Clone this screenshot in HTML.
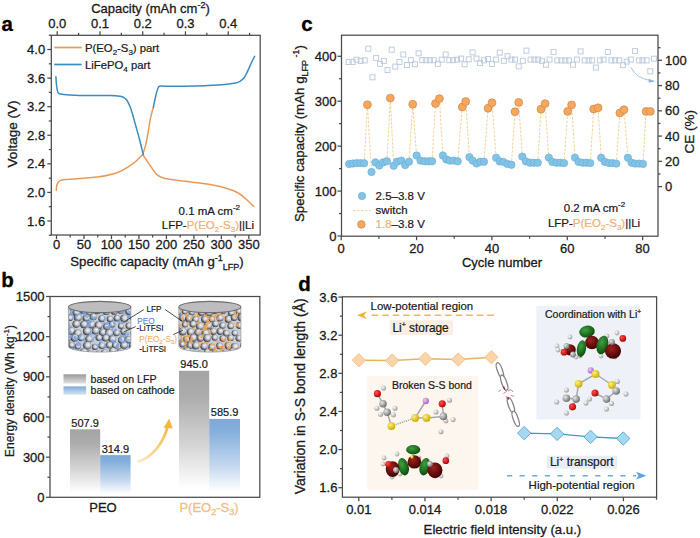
<!DOCTYPE html><html><head><meta charset="utf-8"><style>html,body{margin:0;padding:0;background:#fff;width:700px;height:538px;overflow:hidden}svg{display:block}</style></head><body>
<svg width="700" height="538" viewBox="0 0 700 538" font-family='"Liberation Sans", sans-serif'>
<defs>
<radialGradient id="sph" cx="0.6" cy="0.42" r="0.62" fx="0.62" fy="0.38"><stop offset="0" stop-color="#f2f4f8"/><stop offset="0.42" stop-color="#cacdd4"/><stop offset="0.74" stop-color="#74787f"/><stop offset="1" stop-color="#2a2e34"/></radialGradient>
<radialGradient id="atC" cx="0.35" cy="0.35" r="0.7"><stop offset="0" stop-color="#e8e8e8"/><stop offset="1" stop-color="#6a6a6a"/></radialGradient>
<radialGradient id="atH" cx="0.35" cy="0.35" r="0.7"><stop offset="0" stop-color="#ffffff"/><stop offset="1" stop-color="#9a9a9a"/></radialGradient>
<radialGradient id="atO" cx="0.35" cy="0.35" r="0.7"><stop offset="0" stop-color="#ff5050"/><stop offset="1" stop-color="#b00000"/></radialGradient>
<radialGradient id="atS" cx="0.35" cy="0.35" r="0.7"><stop offset="0" stop-color="#fff27a"/><stop offset="1" stop-color="#c8a800"/></radialGradient>
<radialGradient id="atL" cx="0.35" cy="0.35" r="0.7"><stop offset="0" stop-color="#f0c8f8"/><stop offset="1" stop-color="#a060c0"/></radialGradient>
<radialGradient id="orG" cx="0.4" cy="0.35" r="0.7"><stop offset="0" stop-color="#40a040"/><stop offset="1" stop-color="#0a4a0a"/></radialGradient>
<radialGradient id="orR" cx="0.4" cy="0.35" r="0.7"><stop offset="0" stop-color="#a02020"/><stop offset="1" stop-color="#3a0000"/></radialGradient>
<linearGradient id="barG" x1="0" y1="0" x2="0" y2="1"><stop offset="0" stop-color="#a4a4a4"/><stop offset="0.2" stop-color="#acacac"/><stop offset="0.6" stop-color="#d6d6d6"/><stop offset="0.93" stop-color="#ffffff"/></linearGradient>
<linearGradient id="barB" x1="0" y1="0" x2="0" y2="1"><stop offset="0" stop-color="#7eaad8"/><stop offset="0.15" stop-color="#84aedb"/><stop offset="0.6" stop-color="#c4d7ee"/><stop offset="0.93" stop-color="#ffffff"/></linearGradient>
<linearGradient id="legG" x1="0" y1="0" x2="0" y2="1"><stop offset="0" stop-color="#9a9a9a"/><stop offset="1" stop-color="#e0e0e0"/></linearGradient>
<linearGradient id="legB" x1="0" y1="0" x2="0" y2="1"><stop offset="0" stop-color="#7eaad8"/><stop offset="1" stop-color="#d8e6f4"/></linearGradient>
<linearGradient id="arrY" x1="0" y1="1" x2="1" y2="0"><stop offset="0" stop-color="#fde8c0"/><stop offset="1" stop-color="#f4b840"/></linearGradient>
</defs>
<text x="1.5" y="30.6" font-size="20.5" text-anchor="start" fill="#000" stroke="#000" stroke-width="0.3" font-weight="bold" >a</text>
<rect x="51.30" y="35.30" width="208.90" height="199.70" fill="none" stroke="#4a4a4a" stroke-width="1.25"/>
<line x1="47.30" y1="221.00" x2="51.30" y2="221.00" stroke="#4a4a4a" stroke-width="1.25" />
<text x="45.2" y="225.6" font-size="13" text-anchor="end" fill="#1a1a1a" stroke="#1a1a1a" stroke-width="0.3" font-weight="normal" >1.6</text>
<line x1="48.80" y1="206.71" x2="51.30" y2="206.71" stroke="#4a4a4a" stroke-width="1.25" />
<line x1="47.30" y1="192.42" x2="51.30" y2="192.42" stroke="#4a4a4a" stroke-width="1.25" />
<text x="45.2" y="197.0" font-size="13" text-anchor="end" fill="#1a1a1a" stroke="#1a1a1a" stroke-width="0.3" font-weight="normal" >2.0</text>
<line x1="48.80" y1="178.13" x2="51.30" y2="178.13" stroke="#4a4a4a" stroke-width="1.25" />
<line x1="47.30" y1="163.84" x2="51.30" y2="163.84" stroke="#4a4a4a" stroke-width="1.25" />
<text x="45.2" y="168.4" font-size="13" text-anchor="end" fill="#1a1a1a" stroke="#1a1a1a" stroke-width="0.3" font-weight="normal" >2.4</text>
<line x1="48.80" y1="149.55" x2="51.30" y2="149.55" stroke="#4a4a4a" stroke-width="1.25" />
<line x1="47.30" y1="135.26" x2="51.30" y2="135.26" stroke="#4a4a4a" stroke-width="1.25" />
<text x="45.2" y="139.9" font-size="13" text-anchor="end" fill="#1a1a1a" stroke="#1a1a1a" stroke-width="0.3" font-weight="normal" >2.8</text>
<line x1="48.80" y1="120.97" x2="51.30" y2="120.97" stroke="#4a4a4a" stroke-width="1.25" />
<line x1="47.30" y1="106.68" x2="51.30" y2="106.68" stroke="#4a4a4a" stroke-width="1.25" />
<text x="45.2" y="111.3" font-size="13" text-anchor="end" fill="#1a1a1a" stroke="#1a1a1a" stroke-width="0.3" font-weight="normal" >3.2</text>
<line x1="48.80" y1="92.39" x2="51.30" y2="92.39" stroke="#4a4a4a" stroke-width="1.25" />
<line x1="47.30" y1="78.10" x2="51.30" y2="78.10" stroke="#4a4a4a" stroke-width="1.25" />
<text x="45.2" y="82.7" font-size="13" text-anchor="end" fill="#1a1a1a" stroke="#1a1a1a" stroke-width="0.3" font-weight="normal" >3.6</text>
<line x1="48.80" y1="63.81" x2="51.30" y2="63.81" stroke="#4a4a4a" stroke-width="1.25" />
<line x1="47.30" y1="49.52" x2="51.30" y2="49.52" stroke="#4a4a4a" stroke-width="1.25" />
<text x="45.2" y="54.1" font-size="13" text-anchor="end" fill="#1a1a1a" stroke="#1a1a1a" stroke-width="0.3" font-weight="normal" >4.0</text>
<line x1="48.80" y1="35.23" x2="51.30" y2="35.23" stroke="#4a4a4a" stroke-width="1.25" />
<line x1="48.80" y1="235.29" x2="51.30" y2="235.29" stroke="#4a4a4a" stroke-width="1.25" />
<line x1="56.50" y1="235.00" x2="56.50" y2="239.00" stroke="#4a4a4a" stroke-width="1.25" />
<text x="56.5" y="248.8" font-size="13" text-anchor="middle" fill="#1a1a1a" stroke="#1a1a1a" stroke-width="0.3" font-weight="normal" >0</text>
<line x1="70.24" y1="235.00" x2="70.24" y2="237.50" stroke="#4a4a4a" stroke-width="1.25" />
<line x1="83.98" y1="235.00" x2="83.98" y2="239.00" stroke="#4a4a4a" stroke-width="1.25" />
<text x="84.0" y="248.8" font-size="13" text-anchor="middle" fill="#1a1a1a" stroke="#1a1a1a" stroke-width="0.3" font-weight="normal" >50</text>
<line x1="97.72" y1="235.00" x2="97.72" y2="237.50" stroke="#4a4a4a" stroke-width="1.25" />
<line x1="111.46" y1="235.00" x2="111.46" y2="239.00" stroke="#4a4a4a" stroke-width="1.25" />
<text x="111.5" y="248.8" font-size="13" text-anchor="middle" fill="#1a1a1a" stroke="#1a1a1a" stroke-width="0.3" font-weight="normal" >100</text>
<line x1="125.20" y1="235.00" x2="125.20" y2="237.50" stroke="#4a4a4a" stroke-width="1.25" />
<line x1="138.94" y1="235.00" x2="138.94" y2="239.00" stroke="#4a4a4a" stroke-width="1.25" />
<text x="138.9" y="248.8" font-size="13" text-anchor="middle" fill="#1a1a1a" stroke="#1a1a1a" stroke-width="0.3" font-weight="normal" >150</text>
<line x1="152.68" y1="235.00" x2="152.68" y2="237.50" stroke="#4a4a4a" stroke-width="1.25" />
<line x1="166.42" y1="235.00" x2="166.42" y2="239.00" stroke="#4a4a4a" stroke-width="1.25" />
<text x="166.4" y="248.8" font-size="13" text-anchor="middle" fill="#1a1a1a" stroke="#1a1a1a" stroke-width="0.3" font-weight="normal" >200</text>
<line x1="180.16" y1="235.00" x2="180.16" y2="237.50" stroke="#4a4a4a" stroke-width="1.25" />
<line x1="193.90" y1="235.00" x2="193.90" y2="239.00" stroke="#4a4a4a" stroke-width="1.25" />
<text x="193.9" y="248.8" font-size="13" text-anchor="middle" fill="#1a1a1a" stroke="#1a1a1a" stroke-width="0.3" font-weight="normal" >250</text>
<line x1="207.64" y1="235.00" x2="207.64" y2="237.50" stroke="#4a4a4a" stroke-width="1.25" />
<line x1="221.38" y1="235.00" x2="221.38" y2="239.00" stroke="#4a4a4a" stroke-width="1.25" />
<text x="221.4" y="248.8" font-size="13" text-anchor="middle" fill="#1a1a1a" stroke="#1a1a1a" stroke-width="0.3" font-weight="normal" >300</text>
<line x1="235.12" y1="235.00" x2="235.12" y2="237.50" stroke="#4a4a4a" stroke-width="1.25" />
<line x1="248.86" y1="235.00" x2="248.86" y2="239.00" stroke="#4a4a4a" stroke-width="1.25" />
<text x="248.9" y="248.8" font-size="13" text-anchor="middle" fill="#1a1a1a" stroke="#1a1a1a" stroke-width="0.3" font-weight="normal" >350</text>
<line x1="57.20" y1="35.30" x2="57.20" y2="31.30" stroke="#4a4a4a" stroke-width="1.25" />
<text x="57.2" y="27.5" font-size="13" text-anchor="middle" fill="#1a1a1a" stroke="#1a1a1a" stroke-width="0.3" font-weight="normal" >0.0</text>
<line x1="78.58" y1="35.30" x2="78.58" y2="32.80" stroke="#4a4a4a" stroke-width="1.25" />
<line x1="99.95" y1="35.30" x2="99.95" y2="31.30" stroke="#4a4a4a" stroke-width="1.25" />
<text x="100.0" y="27.5" font-size="13" text-anchor="middle" fill="#1a1a1a" stroke="#1a1a1a" stroke-width="0.3" font-weight="normal" >0.1</text>
<line x1="121.33" y1="35.30" x2="121.33" y2="32.80" stroke="#4a4a4a" stroke-width="1.25" />
<line x1="142.70" y1="35.30" x2="142.70" y2="31.30" stroke="#4a4a4a" stroke-width="1.25" />
<text x="142.7" y="27.5" font-size="13" text-anchor="middle" fill="#1a1a1a" stroke="#1a1a1a" stroke-width="0.3" font-weight="normal" >0.2</text>
<line x1="164.07" y1="35.30" x2="164.07" y2="32.80" stroke="#4a4a4a" stroke-width="1.25" />
<line x1="185.45" y1="35.30" x2="185.45" y2="31.30" stroke="#4a4a4a" stroke-width="1.25" />
<text x="185.5" y="27.5" font-size="13" text-anchor="middle" fill="#1a1a1a" stroke="#1a1a1a" stroke-width="0.3" font-weight="normal" >0.3</text>
<line x1="206.82" y1="35.30" x2="206.82" y2="32.80" stroke="#4a4a4a" stroke-width="1.25" />
<line x1="228.20" y1="35.30" x2="228.20" y2="31.30" stroke="#4a4a4a" stroke-width="1.25" />
<text x="228.2" y="27.5" font-size="13" text-anchor="middle" fill="#1a1a1a" stroke="#1a1a1a" stroke-width="0.3" font-weight="normal" >0.4</text>
<line x1="249.57" y1="35.30" x2="249.57" y2="32.80" stroke="#4a4a4a" stroke-width="1.25" />
<text x="150.5" y="13.4" font-size="13" text-anchor="middle" fill="#1a1a1a" stroke="#1a1a1a" stroke-width="0.3">Capacity (mAh cm<tspan dy="-5" font-size="9">-2</tspan><tspan dy="5">)</tspan></text>
<text x="157" y="265.6" font-size="13.2" text-anchor="middle" fill="#1a1a1a" stroke="#1a1a1a" stroke-width="0.3">Specific capacity (mAh g<tspan dy="-5" font-size="9">-1</tspan><tspan dy="9" font-size="9">LFP</tspan><tspan dy="-4">)</tspan></text>
<text transform="translate(16.8,134) rotate(-90)" x="0" y="0" font-size="13.5" text-anchor="middle" fill="#1a1a1a" stroke="#1a1a1a" stroke-width="0.3">Voltage (V)</text>
<path d="M56.30,190.30 C56.38,189.42 56.38,186.47 56.80,185.00 C57.22,183.53 57.93,182.33 58.80,181.50 C59.67,180.67 60.32,180.37 62.00,180.00 C63.68,179.63 63.05,179.78 68.90,179.30 C74.75,178.82 89.77,177.98 97.10,177.10 C104.43,176.22 108.75,175.10 112.90,174.00 C117.05,172.90 119.38,171.72 122.00,170.50 C124.62,169.28 126.42,168.12 128.60,166.70 C130.78,165.28 132.75,164.03 135.10,162.00 C137.45,159.97 141.43,155.75 142.70,154.50" fill="none" stroke="#e89a58" stroke-width="1.5" stroke-linejoin="round" stroke-linecap="round"/>
<path d="M142.70,154.50 C143.00,153.58 143.95,150.82 144.50,149.00 C145.05,147.18 145.42,146.27 146.00,143.60 C146.58,140.93 147.32,136.92 148.00,133.00 C148.68,129.08 149.43,123.60 150.10,120.10 C150.77,116.60 151.47,114.08 152.00,112.00 C152.53,109.92 153.08,108.33 153.30,107.60" fill="none" stroke="#e89a58" stroke-width="1.5" stroke-linejoin="round" stroke-linecap="round"/>
<path d="M142.70,154.50 C143.42,155.58 145.53,158.83 147.00,161.00 C148.47,163.17 149.85,165.23 151.50,167.50 C153.15,169.77 155.15,172.93 156.90,174.60 C158.65,176.27 159.92,176.72 162.00,177.50 C164.08,178.28 165.57,178.67 169.40,179.30 C173.23,179.93 178.72,180.52 185.00,181.30 C191.28,182.08 201.27,183.13 207.10,184.00 C212.93,184.87 215.80,185.45 220.00,186.50 C224.20,187.55 229.13,189.13 232.30,190.30 C235.47,191.47 236.90,192.20 239.00,193.50 C241.10,194.80 243.15,196.63 244.90,198.10 C246.65,199.57 248.03,200.88 249.50,202.30 C250.97,203.72 253.00,205.88 253.70,206.60" fill="none" stroke="#e89a58" stroke-width="1.5" stroke-linejoin="round" stroke-linecap="round"/>
<path d="M55.90,76.80 C56.02,78.33 56.28,83.47 56.60,86.00 C56.92,88.53 57.23,90.67 57.80,92.00 C58.37,93.33 57.97,93.50 60.00,94.00 C62.03,94.50 65.00,94.73 70.00,95.00 C75.00,95.27 83.33,95.53 90.00,95.60 C96.67,95.67 105.00,95.30 110.00,95.40 C115.00,95.50 117.67,95.83 120.00,96.20 C122.33,96.57 122.83,96.88 124.00,97.60 C125.17,98.32 125.98,98.97 127.00,100.50 C128.02,102.03 129.18,104.55 130.10,106.80 C131.02,109.05 131.67,111.22 132.50,114.00 C133.33,116.78 133.97,119.42 135.10,123.50 C136.23,127.58 138.05,133.77 139.30,138.50 C140.55,143.23 141.90,149.23 142.60,151.90 C143.30,154.57 143.35,154.07 143.50,154.50" fill="none" stroke="#3a8cc0" stroke-width="1.5" stroke-linejoin="round" stroke-linecap="round"/>
<path d="M153.30,107.60 C153.52,106.50 154.15,103.12 154.60,101.00 C155.05,98.88 155.52,96.82 156.00,94.90 C156.48,92.98 156.93,90.93 157.50,89.50 C158.07,88.07 158.15,86.85 159.40,86.30 C160.65,85.75 160.85,86.22 165.00,86.20 C169.15,86.18 175.37,86.42 184.30,86.20 C193.23,85.98 210.03,85.45 218.60,84.90 C227.17,84.35 232.13,83.50 235.70,82.90 C239.27,82.30 238.72,82.02 240.00,81.30 C241.28,80.58 242.40,79.73 243.40,78.60 C244.40,77.47 245.13,76.08 246.00,74.50 C246.87,72.92 247.68,71.10 248.60,69.10 C249.52,67.10 250.50,64.63 251.50,62.50 C252.50,60.37 254.08,57.33 254.60,56.30" fill="none" stroke="#3a8cc0" stroke-width="1.5" stroke-linejoin="round" stroke-linecap="round"/>
<line x1="54.30" y1="47.50" x2="81.70" y2="47.50" stroke="#e89a58" stroke-width="1.7" />
<line x1="54.30" y1="64.50" x2="81.70" y2="64.50" stroke="#3a8cc0" stroke-width="1.7" />
<text x="85" y="51.8" font-size="11.3" fill="#1a1a1a" stroke="#1a1a1a" stroke-width="0.22">P(EO<tspan dy="3" font-size="8">2</tspan><tspan dy="-3">-S</tspan><tspan dy="3" font-size="8">3</tspan><tspan dy="-3">) part</tspan></text>
<text x="85" y="68.6" font-size="11.3" fill="#1a1a1a" stroke="#1a1a1a" stroke-width="0.22">LiFePO<tspan dy="3" font-size="8">4</tspan><tspan dy="-3"> part</tspan></text>
<text x="240" y="214.5" font-size="11.5" text-anchor="end" fill="#1a1a1a" stroke="#1a1a1a" stroke-width="0.22">0.1 mA cm<tspan dy="-5" font-size="8">-2</tspan></text>
<text x="254" y="228.7" font-size="11.5" text-anchor="end" fill="#1a1a1a" stroke="#1a1a1a" stroke-width="0.22">LFP-<tspan fill="#f0b070" stroke="#f0b070">P(EO<tspan dy="3" font-size="8">2</tspan><tspan dy="-3">-S</tspan><tspan dy="3" font-size="8">3</tspan><tspan dy="-3">)</tspan></tspan>||Li</text>
<text x="301.3" y="30.6" font-size="20.5" text-anchor="start" fill="#000" stroke="#000" stroke-width="0.3" font-weight="bold" >c</text>
<rect x="341.50" y="35.20" width="316.50" height="201.00" fill="none" stroke="#4a4a4a" stroke-width="1.25"/>
<line x1="337.50" y1="236.00" x2="341.50" y2="236.00" stroke="#4a4a4a" stroke-width="1.25" />
<text x="336.4" y="240.6" font-size="13" text-anchor="end" fill="#1a1a1a" stroke="#1a1a1a" stroke-width="0.3" font-weight="normal" >0</text>
<line x1="339.00" y1="213.53" x2="341.50" y2="213.53" stroke="#4a4a4a" stroke-width="1.25" />
<line x1="337.50" y1="191.07" x2="341.50" y2="191.07" stroke="#4a4a4a" stroke-width="1.25" />
<text x="336.4" y="195.7" font-size="13" text-anchor="end" fill="#1a1a1a" stroke="#1a1a1a" stroke-width="0.3" font-weight="normal" >100</text>
<line x1="339.00" y1="168.61" x2="341.50" y2="168.61" stroke="#4a4a4a" stroke-width="1.25" />
<line x1="337.50" y1="146.14" x2="341.50" y2="146.14" stroke="#4a4a4a" stroke-width="1.25" />
<text x="336.4" y="150.7" font-size="13" text-anchor="end" fill="#1a1a1a" stroke="#1a1a1a" stroke-width="0.3" font-weight="normal" >200</text>
<line x1="339.00" y1="123.67" x2="341.50" y2="123.67" stroke="#4a4a4a" stroke-width="1.25" />
<line x1="337.50" y1="101.21" x2="341.50" y2="101.21" stroke="#4a4a4a" stroke-width="1.25" />
<text x="336.4" y="105.8" font-size="13" text-anchor="end" fill="#1a1a1a" stroke="#1a1a1a" stroke-width="0.3" font-weight="normal" >300</text>
<line x1="339.00" y1="78.75" x2="341.50" y2="78.75" stroke="#4a4a4a" stroke-width="1.25" />
<line x1="337.50" y1="56.28" x2="341.50" y2="56.28" stroke="#4a4a4a" stroke-width="1.25" />
<text x="336.4" y="60.9" font-size="13" text-anchor="end" fill="#1a1a1a" stroke="#1a1a1a" stroke-width="0.3" font-weight="normal" >400</text>
<line x1="341.20" y1="236.20" x2="341.20" y2="240.20" stroke="#4a4a4a" stroke-width="1.25" />
<text x="341.2" y="253.2" font-size="13" text-anchor="middle" fill="#1a1a1a" stroke="#1a1a1a" stroke-width="0.3" font-weight="normal" >0</text>
<line x1="378.88" y1="236.20" x2="378.88" y2="238.70" stroke="#4a4a4a" stroke-width="1.25" />
<line x1="416.56" y1="236.20" x2="416.56" y2="240.20" stroke="#4a4a4a" stroke-width="1.25" />
<text x="416.6" y="253.2" font-size="13" text-anchor="middle" fill="#1a1a1a" stroke="#1a1a1a" stroke-width="0.3" font-weight="normal" >20</text>
<line x1="454.24" y1="236.20" x2="454.24" y2="238.70" stroke="#4a4a4a" stroke-width="1.25" />
<line x1="491.92" y1="236.20" x2="491.92" y2="240.20" stroke="#4a4a4a" stroke-width="1.25" />
<text x="491.9" y="253.2" font-size="13" text-anchor="middle" fill="#1a1a1a" stroke="#1a1a1a" stroke-width="0.3" font-weight="normal" >40</text>
<line x1="529.60" y1="236.20" x2="529.60" y2="238.70" stroke="#4a4a4a" stroke-width="1.25" />
<line x1="567.28" y1="236.20" x2="567.28" y2="240.20" stroke="#4a4a4a" stroke-width="1.25" />
<text x="567.3" y="253.2" font-size="13" text-anchor="middle" fill="#1a1a1a" stroke="#1a1a1a" stroke-width="0.3" font-weight="normal" >60</text>
<line x1="604.96" y1="236.20" x2="604.96" y2="238.70" stroke="#4a4a4a" stroke-width="1.25" />
<line x1="642.64" y1="236.20" x2="642.64" y2="240.20" stroke="#4a4a4a" stroke-width="1.25" />
<text x="642.6" y="253.2" font-size="13" text-anchor="middle" fill="#1a1a1a" stroke="#1a1a1a" stroke-width="0.3" font-weight="normal" >80</text>
<line x1="658.00" y1="186.60" x2="662.00" y2="186.60" stroke="#4a4a4a" stroke-width="1.25" />
<text x="665.0" y="191.1" font-size="13" text-anchor="start" fill="#1a1a1a" stroke="#1a1a1a" stroke-width="0.3" font-weight="normal" >0</text>
<line x1="658.00" y1="173.97" x2="660.50" y2="173.97" stroke="#4a4a4a" stroke-width="1.25" />
<line x1="658.00" y1="161.34" x2="662.00" y2="161.34" stroke="#4a4a4a" stroke-width="1.25" />
<text x="665.0" y="165.8" font-size="13" text-anchor="start" fill="#1a1a1a" stroke="#1a1a1a" stroke-width="0.3" font-weight="normal" >20</text>
<line x1="658.00" y1="148.71" x2="660.50" y2="148.71" stroke="#4a4a4a" stroke-width="1.25" />
<line x1="658.00" y1="136.08" x2="662.00" y2="136.08" stroke="#4a4a4a" stroke-width="1.25" />
<text x="665.0" y="140.6" font-size="13" text-anchor="start" fill="#1a1a1a" stroke="#1a1a1a" stroke-width="0.3" font-weight="normal" >40</text>
<line x1="658.00" y1="123.45" x2="660.50" y2="123.45" stroke="#4a4a4a" stroke-width="1.25" />
<line x1="658.00" y1="110.82" x2="662.00" y2="110.82" stroke="#4a4a4a" stroke-width="1.25" />
<text x="665.0" y="115.3" font-size="13" text-anchor="start" fill="#1a1a1a" stroke="#1a1a1a" stroke-width="0.3" font-weight="normal" >60</text>
<line x1="658.00" y1="98.19" x2="660.50" y2="98.19" stroke="#4a4a4a" stroke-width="1.25" />
<line x1="658.00" y1="85.56" x2="662.00" y2="85.56" stroke="#4a4a4a" stroke-width="1.25" />
<text x="665.0" y="90.1" font-size="13" text-anchor="start" fill="#1a1a1a" stroke="#1a1a1a" stroke-width="0.3" font-weight="normal" >80</text>
<line x1="658.00" y1="72.93" x2="660.50" y2="72.93" stroke="#4a4a4a" stroke-width="1.25" />
<line x1="658.00" y1="60.30" x2="662.00" y2="60.30" stroke="#4a4a4a" stroke-width="1.25" />
<text x="665.0" y="64.8" font-size="13" text-anchor="start" fill="#1a1a1a" stroke="#1a1a1a" stroke-width="0.3" font-weight="normal" >100</text>
<line x1="658.00" y1="47.67" x2="660.50" y2="47.67" stroke="#4a4a4a" stroke-width="1.25" />
<text x="502" y="267" font-size="13" text-anchor="middle" fill="#1a1a1a" stroke="#1a1a1a" stroke-width="0.3">Cycle number</text>
<text transform="translate(304,133.6) rotate(-90)" font-size="13.3" text-anchor="middle" fill="#1a1a1a" stroke="#1a1a1a" stroke-width="0.3">Specific capacity (mAh g<tspan dy="4" font-size="9">LFP</tspan><tspan dy="-9" font-size="9"> -1</tspan><tspan dy="5">)</tspan></text>
<text transform="translate(694.3,131.8) rotate(-90)" font-size="13.5" text-anchor="middle" fill="#1a1a1a" stroke="#1a1a1a" stroke-width="0.3">CE (%)</text>
<rect x="346.2" y="59.5" width="5.0" height="5.0" fill="none" stroke="#bccbdc" stroke-width="0.95"/>
<rect x="350.1" y="59.5" width="5.0" height="5.0" fill="none" stroke="#bccbdc" stroke-width="0.95"/>
<rect x="354.0" y="57.2" width="5.0" height="5.0" fill="none" stroke="#bccbdc" stroke-width="0.95"/>
<rect x="358.1" y="58.4" width="5.0" height="5.0" fill="none" stroke="#bccbdc" stroke-width="0.95"/>
<rect x="362.2" y="57.9" width="5.0" height="5.0" fill="none" stroke="#bccbdc" stroke-width="0.95"/>
<rect x="365.8" y="46.2" width="5.0" height="5.0" fill="none" stroke="#bccbdc" stroke-width="0.95"/>
<rect x="370.0" y="74.8" width="5.0" height="5.0" fill="none" stroke="#bccbdc" stroke-width="0.95"/>
<rect x="373.6" y="55.4" width="5.0" height="5.0" fill="none" stroke="#bccbdc" stroke-width="0.95"/>
<rect x="377.5" y="61.3" width="5.0" height="5.0" fill="none" stroke="#bccbdc" stroke-width="0.95"/>
<rect x="381.4" y="58.4" width="5.0" height="5.0" fill="none" stroke="#bccbdc" stroke-width="0.95"/>
<rect x="385.0" y="67.5" width="5.0" height="5.0" fill="none" stroke="#bccbdc" stroke-width="0.95"/>
<rect x="389.2" y="47.2" width="5.0" height="5.0" fill="none" stroke="#bccbdc" stroke-width="0.95"/>
<rect x="392.8" y="64.1" width="5.0" height="5.0" fill="none" stroke="#bccbdc" stroke-width="0.95"/>
<rect x="396.9" y="59.5" width="5.0" height="5.0" fill="none" stroke="#bccbdc" stroke-width="0.95"/>
<rect x="400.8" y="52.0" width="5.0" height="5.0" fill="none" stroke="#bccbdc" stroke-width="0.95"/>
<rect x="404.5" y="62.5" width="5.0" height="5.0" fill="none" stroke="#bccbdc" stroke-width="0.95"/>
<rect x="408.4" y="57.7" width="5.0" height="5.0" fill="none" stroke="#bccbdc" stroke-width="0.95"/>
<rect x="412.5" y="61.8" width="5.0" height="5.0" fill="none" stroke="#bccbdc" stroke-width="0.95"/>
<rect x="416.1" y="50.8" width="5.0" height="5.0" fill="none" stroke="#bccbdc" stroke-width="0.95"/>
<rect x="419.8" y="57.7" width="5.0" height="5.0" fill="none" stroke="#bccbdc" stroke-width="0.95"/>
<rect x="423.7" y="57.7" width="5.0" height="5.0" fill="none" stroke="#bccbdc" stroke-width="0.95"/>
<rect x="427.3" y="57.7" width="5.0" height="5.0" fill="none" stroke="#bccbdc" stroke-width="0.95"/>
<rect x="431.2" y="57.7" width="5.0" height="5.0" fill="none" stroke="#bccbdc" stroke-width="0.95"/>
<rect x="435.3" y="61.3" width="5.0" height="5.0" fill="none" stroke="#bccbdc" stroke-width="0.95"/>
<rect x="439.2" y="57.2" width="5.0" height="5.0" fill="none" stroke="#bccbdc" stroke-width="0.95"/>
<rect x="443.1" y="52.0" width="5.0" height="5.0" fill="none" stroke="#bccbdc" stroke-width="0.95"/>
<rect x="446.8" y="57.7" width="5.0" height="5.0" fill="none" stroke="#bccbdc" stroke-width="0.95"/>
<rect x="450.6" y="57.7" width="5.0" height="5.0" fill="none" stroke="#bccbdc" stroke-width="0.95"/>
<rect x="454.5" y="57.2" width="5.0" height="5.0" fill="none" stroke="#bccbdc" stroke-width="0.95"/>
<rect x="458.6" y="56.1" width="5.0" height="5.0" fill="none" stroke="#bccbdc" stroke-width="0.95"/>
<rect x="462.1" y="61.8" width="5.0" height="5.0" fill="none" stroke="#bccbdc" stroke-width="0.95"/>
<rect x="466.2" y="56.8" width="5.0" height="5.0" fill="none" stroke="#bccbdc" stroke-width="0.95"/>
<rect x="470.1" y="49.9" width="5.0" height="5.0" fill="none" stroke="#bccbdc" stroke-width="0.95"/>
<rect x="474.0" y="56.1" width="5.0" height="5.0" fill="none" stroke="#bccbdc" stroke-width="0.95"/>
<rect x="477.6" y="60.6" width="5.0" height="5.0" fill="none" stroke="#bccbdc" stroke-width="0.95"/>
<rect x="481.5" y="57.9" width="5.0" height="5.0" fill="none" stroke="#bccbdc" stroke-width="0.95"/>
<rect x="485.6" y="56.5" width="5.0" height="5.0" fill="none" stroke="#bccbdc" stroke-width="0.95"/>
<rect x="489.4" y="61.5" width="5.0" height="5.0" fill="none" stroke="#bccbdc" stroke-width="0.95"/>
<rect x="493.6" y="57.1" width="5.0" height="5.0" fill="none" stroke="#bccbdc" stroke-width="0.95"/>
<rect x="497.2" y="50.1" width="5.0" height="5.0" fill="none" stroke="#bccbdc" stroke-width="0.95"/>
<rect x="501.3" y="58.3" width="5.0" height="5.0" fill="none" stroke="#bccbdc" stroke-width="0.95"/>
<rect x="505.0" y="53.7" width="5.0" height="5.0" fill="none" stroke="#bccbdc" stroke-width="0.95"/>
<rect x="508.9" y="57.1" width="5.0" height="5.0" fill="none" stroke="#bccbdc" stroke-width="0.95"/>
<rect x="512.5" y="57.1" width="5.0" height="5.0" fill="none" stroke="#bccbdc" stroke-width="0.95"/>
<rect x="516.2" y="63.9" width="5.0" height="5.0" fill="none" stroke="#bccbdc" stroke-width="0.95"/>
<rect x="520.3" y="58.3" width="5.0" height="5.0" fill="none" stroke="#bccbdc" stroke-width="0.95"/>
<rect x="523.9" y="48.1" width="5.0" height="5.0" fill="none" stroke="#bccbdc" stroke-width="0.95"/>
<rect x="528.1" y="57.1" width="5.0" height="5.0" fill="none" stroke="#bccbdc" stroke-width="0.95"/>
<rect x="531.9" y="57.1" width="5.0" height="5.0" fill="none" stroke="#bccbdc" stroke-width="0.95"/>
<rect x="535.6" y="57.1" width="5.0" height="5.0" fill="none" stroke="#bccbdc" stroke-width="0.95"/>
<rect x="539.5" y="58.3" width="5.0" height="5.0" fill="none" stroke="#bccbdc" stroke-width="0.95"/>
<rect x="543.4" y="62.2" width="5.0" height="5.0" fill="none" stroke="#bccbdc" stroke-width="0.95"/>
<rect x="547.0" y="57.1" width="5.0" height="5.0" fill="none" stroke="#bccbdc" stroke-width="0.95"/>
<rect x="551.1" y="49.4" width="5.0" height="5.0" fill="none" stroke="#bccbdc" stroke-width="0.95"/>
<rect x="554.8" y="57.9" width="5.0" height="5.0" fill="none" stroke="#bccbdc" stroke-width="0.95"/>
<rect x="558.9" y="57.9" width="5.0" height="5.0" fill="none" stroke="#bccbdc" stroke-width="0.95"/>
<rect x="562.8" y="57.9" width="5.0" height="5.0" fill="none" stroke="#bccbdc" stroke-width="0.95"/>
<rect x="566.4" y="57.9" width="5.0" height="5.0" fill="none" stroke="#bccbdc" stroke-width="0.95"/>
<rect x="570.5" y="62.2" width="5.0" height="5.0" fill="none" stroke="#bccbdc" stroke-width="0.95"/>
<rect x="574.4" y="57.1" width="5.0" height="5.0" fill="none" stroke="#bccbdc" stroke-width="0.95"/>
<rect x="578.1" y="48.9" width="5.0" height="5.0" fill="none" stroke="#bccbdc" stroke-width="0.95"/>
<rect x="582.2" y="57.9" width="5.0" height="5.0" fill="none" stroke="#bccbdc" stroke-width="0.95"/>
<rect x="586.1" y="57.9" width="5.0" height="5.0" fill="none" stroke="#bccbdc" stroke-width="0.95"/>
<rect x="589.5" y="57.9" width="5.0" height="5.0" fill="none" stroke="#bccbdc" stroke-width="0.95"/>
<rect x="593.4" y="65.1" width="5.0" height="5.0" fill="none" stroke="#bccbdc" stroke-width="0.95"/>
<rect x="597.3" y="57.9" width="5.0" height="5.0" fill="none" stroke="#bccbdc" stroke-width="0.95"/>
<rect x="601.1" y="57.1" width="5.0" height="5.0" fill="none" stroke="#bccbdc" stroke-width="0.95"/>
<rect x="605.3" y="49.4" width="5.0" height="5.0" fill="none" stroke="#bccbdc" stroke-width="0.95"/>
<rect x="608.9" y="57.9" width="5.0" height="5.0" fill="none" stroke="#bccbdc" stroke-width="0.95"/>
<rect x="612.6" y="57.9" width="5.0" height="5.0" fill="none" stroke="#bccbdc" stroke-width="0.95"/>
<rect x="616.7" y="57.9" width="5.0" height="5.0" fill="none" stroke="#bccbdc" stroke-width="0.95"/>
<rect x="620.6" y="62.7" width="5.0" height="5.0" fill="none" stroke="#bccbdc" stroke-width="0.95"/>
<rect x="624.2" y="59.1" width="5.0" height="5.0" fill="none" stroke="#bccbdc" stroke-width="0.95"/>
<rect x="628.3" y="57.1" width="5.0" height="5.0" fill="none" stroke="#bccbdc" stroke-width="0.95"/>
<rect x="632.5" y="48.6" width="5.0" height="5.0" fill="none" stroke="#bccbdc" stroke-width="0.95"/>
<rect x="636.4" y="57.9" width="5.0" height="5.0" fill="none" stroke="#bccbdc" stroke-width="0.95"/>
<rect x="640.0" y="57.9" width="5.0" height="5.0" fill="none" stroke="#bccbdc" stroke-width="0.95"/>
<rect x="644.1" y="57.9" width="5.0" height="5.0" fill="none" stroke="#bccbdc" stroke-width="0.95"/>
<rect x="647.8" y="68.8" width="5.0" height="5.0" fill="none" stroke="#bccbdc" stroke-width="0.95"/>
<rect x="651.4" y="56.2" width="5.0" height="5.0" fill="none" stroke="#bccbdc" stroke-width="0.95"/>
<path d="M631,67.5 Q636,78 650,80.5" fill="none" stroke="#9dbbd8" stroke-width="0.9"/>
<path d="M655.5,81.2 L648.5,78.8 L648.8,82.8 Z" fill="#92b4d8"/>
<line x1="364.2" y1="163.3" x2="367.4" y2="104.7" stroke="#eec878" stroke-width="0.8" stroke-dasharray="2.6,1.4"/>
<line x1="367.4" y1="104.7" x2="371.5" y2="172" stroke="#eec878" stroke-width="0.8" stroke-dasharray="2.6,1.4"/>
<line x1="386.9" y1="161.3" x2="390.3" y2="98.1" stroke="#eec878" stroke-width="0.8" stroke-dasharray="2.6,1.4"/>
<line x1="390.3" y1="98.1" x2="393.7" y2="165.8" stroke="#eec878" stroke-width="0.8" stroke-dasharray="2.6,1.4"/>
<line x1="409" y1="161.7" x2="412.7" y2="104.3" stroke="#eec878" stroke-width="0.8" stroke-dasharray="2.6,1.4"/>
<line x1="412.7" y1="104.3" x2="416.6" y2="155.5" stroke="#eec878" stroke-width="0.8" stroke-dasharray="2.6,1.4"/>
<line x1="432.1" y1="161.3" x2="435.5" y2="103.6" stroke="#eec878" stroke-width="0.8" stroke-dasharray="2.6,1.4"/>
<line x1="439.4" y1="98.6" x2="442.9" y2="155.5" stroke="#eec878" stroke-width="0.8" stroke-dasharray="2.6,1.4"/>
<line x1="457.7" y1="161.3" x2="462.3" y2="107" stroke="#eec878" stroke-width="0.8" stroke-dasharray="2.6,1.4"/>
<line x1="465.7" y1="101.5" x2="469.4" y2="157.1" stroke="#eec878" stroke-width="0.8" stroke-dasharray="2.6,1.4"/>
<line x1="484" y1="161.7" x2="488.1" y2="108.2" stroke="#eec878" stroke-width="0.8" stroke-dasharray="2.6,1.4"/>
<line x1="492" y1="102.7" x2="496.1" y2="157.8" stroke="#eec878" stroke-width="0.8" stroke-dasharray="2.6,1.4"/>
<line x1="511.4" y1="164.8" x2="515" y2="111.7" stroke="#eec878" stroke-width="0.8" stroke-dasharray="2.6,1.4"/>
<line x1="518.7" y1="102.4" x2="522.3" y2="156.6" stroke="#eec878" stroke-width="0.8" stroke-dasharray="2.6,1.4"/>
<line x1="537.8" y1="162.7" x2="541" y2="109.2" stroke="#eec878" stroke-width="0.8" stroke-dasharray="2.6,1.4"/>
<line x1="545.1" y1="103.6" x2="548.8" y2="157.6" stroke="#eec878" stroke-width="0.8" stroke-dasharray="2.6,1.4"/>
<line x1="564.1" y1="163.1" x2="567.7" y2="111.4" stroke="#eec878" stroke-width="0.8" stroke-dasharray="2.6,1.4"/>
<line x1="571.6" y1="104.9" x2="575" y2="157.6" stroke="#eec878" stroke-width="0.8" stroke-dasharray="2.6,1.4"/>
<line x1="590.3" y1="163.1" x2="593.7" y2="109" stroke="#eec878" stroke-width="0.8" stroke-dasharray="2.6,1.4"/>
<line x1="598.1" y1="107.8" x2="601.2" y2="157.8" stroke="#eec878" stroke-width="0.8" stroke-dasharray="2.6,1.4"/>
<line x1="616.3" y1="163.6" x2="619.9" y2="112.9" stroke="#eec878" stroke-width="0.8" stroke-dasharray="2.6,1.4"/>
<line x1="624" y1="109.7" x2="627.9" y2="157.8" stroke="#eec878" stroke-width="0.8" stroke-dasharray="2.6,1.4"/>
<line x1="643" y1="163.9" x2="646.1" y2="111.4" stroke="#eec878" stroke-width="0.8" stroke-dasharray="2.6,1.4"/>
<circle cx="349.1" cy="164" r="3.7" fill="#82c3e6" stroke="#68acd6" stroke-width="0.6"/>
<circle cx="353" cy="163.5" r="3.7" fill="#82c3e6" stroke="#68acd6" stroke-width="0.6"/>
<circle cx="356.7" cy="163.1" r="3.7" fill="#82c3e6" stroke="#68acd6" stroke-width="0.6"/>
<circle cx="360.6" cy="163.1" r="3.7" fill="#82c3e6" stroke="#68acd6" stroke-width="0.6"/>
<circle cx="364.2" cy="163.3" r="3.7" fill="#82c3e6" stroke="#68acd6" stroke-width="0.6"/>
<circle cx="371.5" cy="172" r="3.7" fill="#82c3e6" stroke="#68acd6" stroke-width="0.6"/>
<circle cx="375.4" cy="162.4" r="3.7" fill="#82c3e6" stroke="#68acd6" stroke-width="0.6"/>
<circle cx="379.3" cy="165.6" r="3.7" fill="#82c3e6" stroke="#68acd6" stroke-width="0.6"/>
<circle cx="383" cy="162.4" r="3.7" fill="#82c3e6" stroke="#68acd6" stroke-width="0.6"/>
<circle cx="386.9" cy="161.3" r="3.7" fill="#82c3e6" stroke="#68acd6" stroke-width="0.6"/>
<circle cx="393.7" cy="165.8" r="3.7" fill="#82c3e6" stroke="#68acd6" stroke-width="0.6"/>
<circle cx="397.1" cy="161.7" r="3.7" fill="#82c3e6" stroke="#68acd6" stroke-width="0.6"/>
<circle cx="401.3" cy="160.6" r="3.7" fill="#82c3e6" stroke="#68acd6" stroke-width="0.6"/>
<circle cx="405.1" cy="165.1" r="3.7" fill="#82c3e6" stroke="#68acd6" stroke-width="0.6"/>
<circle cx="409" cy="161.7" r="3.7" fill="#82c3e6" stroke="#68acd6" stroke-width="0.6"/>
<circle cx="416.6" cy="155.5" r="3.7" fill="#82c3e6" stroke="#68acd6" stroke-width="0.6"/>
<circle cx="420.5" cy="160.6" r="3.7" fill="#82c3e6" stroke="#68acd6" stroke-width="0.6"/>
<circle cx="424.6" cy="161.3" r="3.7" fill="#82c3e6" stroke="#68acd6" stroke-width="0.6"/>
<circle cx="428.7" cy="161.3" r="3.7" fill="#82c3e6" stroke="#68acd6" stroke-width="0.6"/>
<circle cx="432.1" cy="161.3" r="3.7" fill="#82c3e6" stroke="#68acd6" stroke-width="0.6"/>
<circle cx="442.9" cy="155.5" r="3.7" fill="#82c3e6" stroke="#68acd6" stroke-width="0.6"/>
<circle cx="446.3" cy="159.4" r="3.7" fill="#82c3e6" stroke="#68acd6" stroke-width="0.6"/>
<circle cx="449.7" cy="160.6" r="3.7" fill="#82c3e6" stroke="#68acd6" stroke-width="0.6"/>
<circle cx="453.6" cy="160.6" r="3.7" fill="#82c3e6" stroke="#68acd6" stroke-width="0.6"/>
<circle cx="457.7" cy="161.3" r="3.7" fill="#82c3e6" stroke="#68acd6" stroke-width="0.6"/>
<circle cx="469.4" cy="157.1" r="3.7" fill="#82c3e6" stroke="#68acd6" stroke-width="0.6"/>
<circle cx="472.6" cy="160.6" r="3.7" fill="#82c3e6" stroke="#68acd6" stroke-width="0.6"/>
<circle cx="476.5" cy="163.5" r="3.7" fill="#82c3e6" stroke="#68acd6" stroke-width="0.6"/>
<circle cx="480.3" cy="161.7" r="3.7" fill="#82c3e6" stroke="#68acd6" stroke-width="0.6"/>
<circle cx="484" cy="161.7" r="3.7" fill="#82c3e6" stroke="#68acd6" stroke-width="0.6"/>
<circle cx="496.1" cy="157.8" r="3.7" fill="#82c3e6" stroke="#68acd6" stroke-width="0.6"/>
<circle cx="499.7" cy="161.4" r="3.7" fill="#82c3e6" stroke="#68acd6" stroke-width="0.6"/>
<circle cx="503.4" cy="161.9" r="3.7" fill="#82c3e6" stroke="#68acd6" stroke-width="0.6"/>
<circle cx="507.5" cy="163.9" r="3.7" fill="#82c3e6" stroke="#68acd6" stroke-width="0.6"/>
<circle cx="511.4" cy="164.8" r="3.7" fill="#82c3e6" stroke="#68acd6" stroke-width="0.6"/>
<circle cx="522.3" cy="156.6" r="3.7" fill="#82c3e6" stroke="#68acd6" stroke-width="0.6"/>
<circle cx="525.9" cy="161.4" r="3.7" fill="#82c3e6" stroke="#68acd6" stroke-width="0.6"/>
<circle cx="530.1" cy="162.7" r="3.7" fill="#82c3e6" stroke="#68acd6" stroke-width="0.6"/>
<circle cx="533.7" cy="162.7" r="3.7" fill="#82c3e6" stroke="#68acd6" stroke-width="0.6"/>
<circle cx="537.8" cy="162.7" r="3.7" fill="#82c3e6" stroke="#68acd6" stroke-width="0.6"/>
<circle cx="548.8" cy="157.6" r="3.7" fill="#82c3e6" stroke="#68acd6" stroke-width="0.6"/>
<circle cx="552.4" cy="161.9" r="3.7" fill="#82c3e6" stroke="#68acd6" stroke-width="0.6"/>
<circle cx="556.5" cy="162.7" r="3.7" fill="#82c3e6" stroke="#68acd6" stroke-width="0.6"/>
<circle cx="560.4" cy="162.7" r="3.7" fill="#82c3e6" stroke="#68acd6" stroke-width="0.6"/>
<circle cx="564.1" cy="163.1" r="3.7" fill="#82c3e6" stroke="#68acd6" stroke-width="0.6"/>
<circle cx="575" cy="157.6" r="3.7" fill="#82c3e6" stroke="#68acd6" stroke-width="0.6"/>
<circle cx="578.6" cy="161.9" r="3.7" fill="#82c3e6" stroke="#68acd6" stroke-width="0.6"/>
<circle cx="582.8" cy="162.7" r="3.7" fill="#82c3e6" stroke="#68acd6" stroke-width="0.6"/>
<circle cx="586.6" cy="162.7" r="3.7" fill="#82c3e6" stroke="#68acd6" stroke-width="0.6"/>
<circle cx="590.3" cy="163.1" r="3.7" fill="#82c3e6" stroke="#68acd6" stroke-width="0.6"/>
<circle cx="601.2" cy="157.8" r="3.7" fill="#82c3e6" stroke="#68acd6" stroke-width="0.6"/>
<circle cx="604.9" cy="161.9" r="3.7" fill="#82c3e6" stroke="#68acd6" stroke-width="0.6"/>
<circle cx="609" cy="163.1" r="3.7" fill="#82c3e6" stroke="#68acd6" stroke-width="0.6"/>
<circle cx="612.6" cy="163.1" r="3.7" fill="#82c3e6" stroke="#68acd6" stroke-width="0.6"/>
<circle cx="616.3" cy="163.6" r="3.7" fill="#82c3e6" stroke="#68acd6" stroke-width="0.6"/>
<circle cx="627.9" cy="157.8" r="3.7" fill="#82c3e6" stroke="#68acd6" stroke-width="0.6"/>
<circle cx="631.6" cy="162.7" r="3.7" fill="#82c3e6" stroke="#68acd6" stroke-width="0.6"/>
<circle cx="635.2" cy="163.6" r="3.7" fill="#82c3e6" stroke="#68acd6" stroke-width="0.6"/>
<circle cx="639.1" cy="163.6" r="3.7" fill="#82c3e6" stroke="#68acd6" stroke-width="0.6"/>
<circle cx="643" cy="163.9" r="3.7" fill="#82c3e6" stroke="#68acd6" stroke-width="0.6"/>
<circle cx="367.4" cy="104.7" r="3.95" fill="#f6a75c" stroke="#c98a50" stroke-width="0.7"/>
<circle cx="390.3" cy="98.1" r="3.95" fill="#f6a75c" stroke="#c98a50" stroke-width="0.7"/>
<circle cx="412.7" cy="104.3" r="3.95" fill="#f6a75c" stroke="#c98a50" stroke-width="0.7"/>
<circle cx="435.5" cy="103.6" r="3.95" fill="#f6a75c" stroke="#c98a50" stroke-width="0.7"/>
<circle cx="439.4" cy="98.6" r="3.95" fill="#f6a75c" stroke="#c98a50" stroke-width="0.7"/>
<circle cx="462.3" cy="107" r="3.95" fill="#f6a75c" stroke="#c98a50" stroke-width="0.7"/>
<circle cx="465.7" cy="101.5" r="3.95" fill="#f6a75c" stroke="#c98a50" stroke-width="0.7"/>
<circle cx="488.1" cy="108.2" r="3.95" fill="#f6a75c" stroke="#c98a50" stroke-width="0.7"/>
<circle cx="492" cy="102.7" r="3.95" fill="#f6a75c" stroke="#c98a50" stroke-width="0.7"/>
<circle cx="515" cy="111.7" r="3.95" fill="#f6a75c" stroke="#c98a50" stroke-width="0.7"/>
<circle cx="518.7" cy="102.4" r="3.95" fill="#f6a75c" stroke="#c98a50" stroke-width="0.7"/>
<circle cx="541" cy="109.2" r="3.95" fill="#f6a75c" stroke="#c98a50" stroke-width="0.7"/>
<circle cx="545.1" cy="103.6" r="3.95" fill="#f6a75c" stroke="#c98a50" stroke-width="0.7"/>
<circle cx="567.7" cy="111.4" r="3.95" fill="#f6a75c" stroke="#c98a50" stroke-width="0.7"/>
<circle cx="571.6" cy="104.9" r="3.95" fill="#f6a75c" stroke="#c98a50" stroke-width="0.7"/>
<circle cx="593.7" cy="109" r="3.95" fill="#f6a75c" stroke="#c98a50" stroke-width="0.7"/>
<circle cx="598.1" cy="107.8" r="3.95" fill="#f6a75c" stroke="#c98a50" stroke-width="0.7"/>
<circle cx="619.9" cy="112.9" r="3.95" fill="#f6a75c" stroke="#c98a50" stroke-width="0.7"/>
<circle cx="624" cy="109.7" r="3.95" fill="#f6a75c" stroke="#c98a50" stroke-width="0.7"/>
<circle cx="646.1" cy="111.4" r="3.95" fill="#f6a75c" stroke="#c98a50" stroke-width="0.7"/>
<circle cx="650.3" cy="111.4" r="3.95" fill="#f6a75c" stroke="#c98a50" stroke-width="0.7"/>
<circle cx="362" cy="196" r="3.7" fill="#82c3e6" stroke="#68acd6" stroke-width="0.6"/>
<text x="375.6" y="200" font-size="11.5" fill="#1a1a1a" stroke="#1a1a1a" stroke-width="0.22">2.5–3.8 V</text>
<line x1="353" y1="210.6" x2="371" y2="210.6" stroke="#eec878" stroke-width="0.8" stroke-dasharray="2.6,1.4"/>
<text x="375.6" y="214" font-size="11.5" fill="#1a1a1a" stroke="#1a1a1a" stroke-width="0.22">switch</text>
<circle cx="361.4" cy="224.4" r="3.8" fill="#f6a75c" stroke="#c98a50" stroke-width="0.7"/>
<text x="375.6" y="228" font-size="11.5" fill="#1a1a1a" stroke="#1a1a1a" stroke-width="0.22"><tspan fill="#f0b070" stroke="#f0b070">1.8</tspan>–3.8 V</text>
<text x="594.5" y="212.3" font-size="11.5" text-anchor="middle" fill="#1a1a1a" stroke="#1a1a1a" stroke-width="0.22">0.2 mA cm<tspan dy="-5" font-size="8">-2</tspan></text>
<text x="594" y="227" font-size="11.5" text-anchor="middle" fill="#1a1a1a" stroke="#1a1a1a" stroke-width="0.22">LFP-<tspan fill="#f0b070" stroke="#f0b070">P(EO<tspan dy="3" font-size="8">2</tspan><tspan dy="-3">-S</tspan><tspan dy="3" font-size="8">3</tspan><tspan dy="-3">)</tspan></tspan>||Li</text>
<text x="1.2" y="286.8" font-size="20.5" text-anchor="start" fill="#000" stroke="#000" stroke-width="0.3" font-weight="bold" >b</text>
<rect x="70" y="429.3" width="30.2" height="67.5" fill="url(#barG)"/>
<rect x="100.2" y="455.1" width="30.4" height="41.7" fill="url(#barB)"/>
<rect x="179" y="370.8" width="30.2" height="126.0" fill="url(#barG)"/>
<rect x="209.2" y="418.9" width="30.8" height="77.9" fill="url(#barB)"/>
<text x="85.1" y="426.7" font-size="11" text-anchor="middle" fill="#1a1a1a" stroke="#1a1a1a" stroke-width="0.22" font-weight="normal" >507.9</text>
<text x="115.4" y="452.5" font-size="11" text-anchor="middle" fill="#1a1a1a" stroke="#1a1a1a" stroke-width="0.22" font-weight="normal" >314.9</text>
<text x="194.1" y="368.2" font-size="11" text-anchor="middle" fill="#1a1a1a" stroke="#1a1a1a" stroke-width="0.22" font-weight="normal" >945.0</text>
<text x="224.6" y="416.3" font-size="11" text-anchor="middle" fill="#1a1a1a" stroke="#1a1a1a" stroke-width="0.22" font-weight="normal" >585.9</text>
<rect x="50.00" y="296.50" width="209.80" height="200.80" fill="none" stroke="#4a4a4a" stroke-width="1.25"/>
<line x1="46.00" y1="497.30" x2="50.00" y2="497.30" stroke="#4a4a4a" stroke-width="1.25" />
<text x="44.6" y="501.9" font-size="13" text-anchor="end" fill="#1a1a1a" stroke="#1a1a1a" stroke-width="0.3" font-weight="normal" >0</text>
<line x1="47.50" y1="477.22" x2="50.00" y2="477.22" stroke="#4a4a4a" stroke-width="1.25" />
<line x1="46.00" y1="457.14" x2="50.00" y2="457.14" stroke="#4a4a4a" stroke-width="1.25" />
<text x="44.6" y="461.7" font-size="13" text-anchor="end" fill="#1a1a1a" stroke="#1a1a1a" stroke-width="0.3" font-weight="normal" >300</text>
<line x1="47.50" y1="437.06" x2="50.00" y2="437.06" stroke="#4a4a4a" stroke-width="1.25" />
<line x1="46.00" y1="416.98" x2="50.00" y2="416.98" stroke="#4a4a4a" stroke-width="1.25" />
<text x="44.6" y="421.6" font-size="13" text-anchor="end" fill="#1a1a1a" stroke="#1a1a1a" stroke-width="0.3" font-weight="normal" >600</text>
<line x1="47.50" y1="396.90" x2="50.00" y2="396.90" stroke="#4a4a4a" stroke-width="1.25" />
<line x1="46.00" y1="376.82" x2="50.00" y2="376.82" stroke="#4a4a4a" stroke-width="1.25" />
<text x="44.6" y="381.4" font-size="13" text-anchor="end" fill="#1a1a1a" stroke="#1a1a1a" stroke-width="0.3" font-weight="normal" >900</text>
<line x1="47.50" y1="356.74" x2="50.00" y2="356.74" stroke="#4a4a4a" stroke-width="1.25" />
<line x1="46.00" y1="336.66" x2="50.00" y2="336.66" stroke="#4a4a4a" stroke-width="1.25" />
<text x="44.6" y="341.3" font-size="13" text-anchor="end" fill="#1a1a1a" stroke="#1a1a1a" stroke-width="0.3" font-weight="normal" >1200</text>
<line x1="47.50" y1="316.58" x2="50.00" y2="316.58" stroke="#4a4a4a" stroke-width="1.25" />
<line x1="46.00" y1="296.50" x2="50.00" y2="296.50" stroke="#4a4a4a" stroke-width="1.25" />
<text x="44.6" y="301.1" font-size="13" text-anchor="end" fill="#1a1a1a" stroke="#1a1a1a" stroke-width="0.3" font-weight="normal" >1500</text>
<text transform="translate(14,391) rotate(-90)" font-size="12" text-anchor="middle" fill="#1a1a1a" stroke="#1a1a1a" stroke-width="0.22">Energy density (Wh kg<tspan dy="-5" font-size="8">-1</tspan><tspan dy="5">)</tspan></text>
<text x="103.0" y="512.0" font-size="13" text-anchor="middle" fill="#1a1a1a" stroke="#1a1a1a" stroke-width="0.3" font-weight="normal" >PEO</text>
<text x="209" y="511.7" font-size="13" text-anchor="middle" fill="#f2bd86" stroke="#f2bd86" stroke-width="0.3">P(EO<tspan dy="3.5" font-size="9">2</tspan><tspan dy="-3.5">-S</tspan><tspan dy="3.5" font-size="9">3</tspan><tspan dy="-3.5">)</tspan></text>
<rect x="63.5" y="374.3" width="22.6" height="9.2" fill="url(#legG)"/>
<rect x="63.5" y="386.4" width="22.6" height="8.4" fill="url(#legB)"/>
<text x="90.5" y="382.8" font-size="10.6" text-anchor="start" fill="#1a1a1a" stroke="#1a1a1a" stroke-width="0.22" font-weight="normal" >based on LFP</text>
<text x="90.5" y="394.4" font-size="10.6" text-anchor="start" fill="#1a1a1a" stroke="#1a1a1a" stroke-width="0.22" font-weight="normal" >based on cathode</text>
<path d="M138.5,461.5 C150,458 163,446 168,425" fill="none" stroke="url(#arrY)" stroke-width="2.8" stroke-linecap="round"/>
<path d="M169.2,418.5 L163.6,427.8 L172.8,428.6 Z" fill="#f4b840"/>
<clipPath id="cyl1"><path d="M68.5,307.0 L68.5,346.5 A31.200000000000003,5.6 0 0 0 130.9,346.5 L130.9,307.0 Z"/></clipPath>
<g clip-path="url(#cyl1)">
<rect x="68.5" y="307.0" width="62.400000000000006" height="45.1" fill="#c8ccd4"/>
<ellipse cx="76.9" cy="345.7" rx="2.7" ry="1.1" transform="rotate(89 76.9 345.7)" fill="#7aa4e4" opacity="0.8"/>
<ellipse cx="96.5" cy="337.4" rx="2.8" ry="0.9" transform="rotate(5 96.5 337.4)" fill="#7aa4e4" opacity="0.8"/>
<ellipse cx="120.7" cy="328.2" rx="2.7" ry="0.8" transform="rotate(80 120.7 328.2)" fill="#7aa4e4" opacity="0.8"/>
<ellipse cx="113.5" cy="319.6" rx="3.1" ry="1.9" transform="rotate(6 113.5 319.6)" fill="#7aa4e4" opacity="0.8"/>
<ellipse cx="70.1" cy="332.8" rx="3.1" ry="1.3" transform="rotate(39 70.1 332.8)" fill="#7aa4e4" opacity="0.8"/>
<ellipse cx="94.8" cy="311.2" rx="1.6" ry="1.3" transform="rotate(89 94.8 311.2)" fill="#7aa4e4" opacity="0.8"/>
<ellipse cx="83.0" cy="319.7" rx="1.6" ry="1.4" transform="rotate(52 83.0 319.7)" fill="#7aa4e4" opacity="0.8"/>
<ellipse cx="69.8" cy="345.3" rx="2.3" ry="1.6" transform="rotate(33 69.8 345.3)" fill="#7aa4e4" opacity="0.8"/>
<ellipse cx="130.4" cy="346.2" rx="1.4" ry="1.2" transform="rotate(130 130.4 346.2)" fill="#7aa4e4" opacity="0.8"/>
<ellipse cx="112.9" cy="349.4" rx="2.0" ry="1.8" transform="rotate(121 112.9 349.4)" fill="#7aa4e4" opacity="0.8"/>
<ellipse cx="87.4" cy="334.7" rx="3.0" ry="1.8" transform="rotate(91 87.4 334.7)" fill="#7aa4e4" opacity="0.8"/>
<ellipse cx="105.3" cy="311.5" rx="1.7" ry="1.8" transform="rotate(75 105.3 311.5)" fill="#7aa4e4" opacity="0.8"/>
<ellipse cx="79.3" cy="333.1" rx="2.6" ry="1.6" transform="rotate(67 79.3 333.1)" fill="#7aa4e4" opacity="0.8"/>
<ellipse cx="95.9" cy="331.4" rx="2.8" ry="1.4" transform="rotate(71 95.9 331.4)" fill="#7aa4e4" opacity="0.8"/>
<ellipse cx="99.1" cy="311.2" rx="1.3" ry="1.6" transform="rotate(177 99.1 311.2)" fill="#7aa4e4" opacity="0.8"/>
<ellipse cx="105.5" cy="326.6" rx="1.5" ry="1.4" transform="rotate(177 105.5 326.6)" fill="#7aa4e4" opacity="0.8"/>
<ellipse cx="116.6" cy="332.7" rx="2.9" ry="1.1" transform="rotate(92 116.6 332.7)" fill="#7aa4e4" opacity="0.8"/>
<ellipse cx="127.9" cy="334.3" rx="2.1" ry="1.1" transform="rotate(99 127.9 334.3)" fill="#7aa4e4" opacity="0.8"/>
<ellipse cx="128.2" cy="310.2" rx="2.8" ry="1.8" transform="rotate(160 128.2 310.2)" fill="#7aa4e4" opacity="0.8"/>
<ellipse cx="114.7" cy="344.1" rx="2.2" ry="1.5" transform="rotate(77 114.7 344.1)" fill="#7aa4e4" opacity="0.8"/>
<ellipse cx="72.0" cy="346.6" rx="2.3" ry="1.0" transform="rotate(91 72.0 346.6)" fill="#7aa4e4" opacity="0.8"/>
<ellipse cx="98.8" cy="325.0" rx="1.9" ry="1.4" transform="rotate(112 98.8 325.0)" fill="#7aa4e4" opacity="0.8"/>
<ellipse cx="106.7" cy="329.3" rx="1.3" ry="1.1" transform="rotate(32 106.7 329.3)" fill="#7aa4e4" opacity="0.8"/>
<ellipse cx="105.0" cy="346.2" rx="2.8" ry="1.8" transform="rotate(147 105.0 346.2)" fill="#7aa4e4" opacity="0.8"/>
<ellipse cx="84.4" cy="345.4" rx="2.5" ry="0.9" transform="rotate(3 84.4 345.4)" fill="#7aa4e4" opacity="0.8"/>
<ellipse cx="69.4" cy="341.8" rx="1.7" ry="0.9" transform="rotate(112 69.4 341.8)" fill="#7aa4e4" opacity="0.8"/>
<ellipse cx="90.0" cy="312.9" rx="1.5" ry="1.4" transform="rotate(30 90.0 312.9)" fill="#7aa4e4" opacity="0.8"/>
<ellipse cx="85.5" cy="340.0" rx="2.1" ry="1.2" transform="rotate(85 85.5 340.0)" fill="#7aa4e4" opacity="0.8"/>
<ellipse cx="70.0" cy="326.3" rx="2.0" ry="1.0" transform="rotate(20 70.0 326.3)" fill="#7aa4e4" opacity="0.8"/>
<ellipse cx="124.6" cy="331.5" rx="1.6" ry="1.5" transform="rotate(147 124.6 331.5)" fill="#7aa4e4" opacity="0.8"/>
<ellipse cx="69.8" cy="310.8" rx="1.5" ry="1.7" transform="rotate(29 69.8 310.8)" fill="#7aa4e4" opacity="0.8"/>
<ellipse cx="112.5" cy="338.6" rx="2.3" ry="1.1" transform="rotate(176 112.5 338.6)" fill="#7aa4e4" opacity="0.8"/>
<ellipse cx="118.3" cy="331.7" rx="1.6" ry="1.6" transform="rotate(71 118.3 331.7)" fill="#7aa4e4" opacity="0.8"/>
<ellipse cx="104.4" cy="323.5" rx="2.5" ry="0.9" transform="rotate(54 104.4 323.5)" fill="#7aa4e4" opacity="0.8"/>
<ellipse cx="128.9" cy="346.9" rx="1.8" ry="1.8" transform="rotate(56 128.9 346.9)" fill="#7aa4e4" opacity="0.8"/>
<ellipse cx="127.1" cy="341.3" rx="2.0" ry="1.1" transform="rotate(2 127.1 341.3)" fill="#7aa4e4" opacity="0.8"/>
<ellipse cx="123.3" cy="311.6" rx="2.8" ry="2.0" transform="rotate(103 123.3 311.6)" fill="#7aa4e4" opacity="0.8"/>
<ellipse cx="79.2" cy="346.5" rx="3.1" ry="1.6" transform="rotate(92 79.2 346.5)" fill="#7aa4e4" opacity="0.8"/>
<ellipse cx="92.1" cy="324.6" rx="1.6" ry="1.6" transform="rotate(78 92.1 324.6)" fill="#7aa4e4" opacity="0.8"/>
<ellipse cx="80.6" cy="314.4" rx="2.5" ry="1.2" transform="rotate(90 80.6 314.4)" fill="#7aa4e4" opacity="0.8"/>
<ellipse cx="88.8" cy="346.7" rx="3.0" ry="0.8" transform="rotate(36 88.8 346.7)" fill="#7aa4e4" opacity="0.8"/>
<ellipse cx="89.0" cy="351.6" rx="2.8" ry="1.2" transform="rotate(38 89.0 351.6)" fill="#7aa4e4" opacity="0.8"/>
<ellipse cx="110.6" cy="345.3" rx="3.1" ry="1.2" transform="rotate(159 110.6 345.3)" fill="#7aa4e4" opacity="0.8"/>
<ellipse cx="111.4" cy="330.4" rx="3.2" ry="1.1" transform="rotate(131 111.4 330.4)" fill="#7aa4e4" opacity="0.8"/>
<ellipse cx="73.8" cy="317.1" rx="3.0" ry="1.1" transform="rotate(137 73.8 317.1)" fill="#7aa4e4" opacity="0.8"/>
<ellipse cx="106.0" cy="345.4" rx="1.9" ry="1.2" transform="rotate(52 106.0 345.4)" fill="#7aa4e4" opacity="0.8"/>
<ellipse cx="122.6" cy="335.4" rx="3.1" ry="1.9" transform="rotate(24 122.6 335.4)" fill="#7aa4e4" opacity="0.8"/>
<ellipse cx="102.9" cy="314.4" rx="1.3" ry="0.9" transform="rotate(156 102.9 314.4)" fill="#7aa4e4" opacity="0.8"/>
<ellipse cx="117.7" cy="344.9" rx="1.9" ry="1.5" transform="rotate(141 117.7 344.9)" fill="#7aa4e4" opacity="0.8"/>
<ellipse cx="92.1" cy="334.0" rx="1.6" ry="0.9" transform="rotate(48 92.1 334.0)" fill="#7aa4e4" opacity="0.8"/>
<ellipse cx="124.1" cy="333.8" rx="3.1" ry="1.3" transform="rotate(50 124.1 333.8)" fill="#7aa4e4" opacity="0.8"/>
<ellipse cx="117.6" cy="344.8" rx="1.2" ry="1.6" transform="rotate(17 117.6 344.8)" fill="#7aa4e4" opacity="0.8"/>
<ellipse cx="75.7" cy="347.3" rx="1.3" ry="1.1" transform="rotate(178 75.7 347.3)" fill="#7aa4e4" opacity="0.8"/>
<ellipse cx="94.8" cy="314.9" rx="1.5" ry="1.1" transform="rotate(134 94.8 314.9)" fill="#7aa4e4" opacity="0.8"/>
<ellipse cx="74.9" cy="348.3" rx="2.0" ry="2.0" transform="rotate(164 74.9 348.3)" fill="#7aa4e4" opacity="0.8"/>
<ellipse cx="86.8" cy="320.7" rx="2.2" ry="0.9" transform="rotate(117 86.8 320.7)" fill="#7aa4e4" opacity="0.8"/>
<ellipse cx="71.0" cy="310.4" rx="3.2" ry="1.2" transform="rotate(107 71.0 310.4)" fill="#7aa4e4" opacity="0.8"/>
<ellipse cx="96.6" cy="323.2" rx="1.3" ry="1.9" transform="rotate(175 96.6 323.2)" fill="#7aa4e4" opacity="0.8"/>
<ellipse cx="129.0" cy="314.7" rx="1.6" ry="1.5" transform="rotate(176 129.0 314.7)" fill="#7aa4e4" opacity="0.8"/>
<ellipse cx="102.4" cy="339.0" rx="2.5" ry="1.1" transform="rotate(97 102.4 339.0)" fill="#7aa4e4" opacity="0.8"/>
<ellipse cx="87.7" cy="320.4" rx="1.4" ry="1.1" transform="rotate(177 87.7 320.4)" fill="#7aa4e4" opacity="0.8"/>
<ellipse cx="96.4" cy="337.4" rx="2.5" ry="1.9" transform="rotate(70 96.4 337.4)" fill="#7aa4e4" opacity="0.8"/>
<ellipse cx="87.6" cy="323.8" rx="1.8" ry="1.8" transform="rotate(161 87.6 323.8)" fill="#7aa4e4" opacity="0.8"/>
<ellipse cx="87.4" cy="324.1" rx="2.3" ry="1.5" transform="rotate(107 87.4 324.1)" fill="#7aa4e4" opacity="0.8"/>
<ellipse cx="83.8" cy="310.9" rx="1.7" ry="0.9" transform="rotate(99 83.8 310.9)" fill="#7aa4e4" opacity="0.8"/>
<ellipse cx="72.9" cy="313.2" rx="2.5" ry="1.1" transform="rotate(143 72.9 313.2)" fill="#7aa4e4" opacity="0.8"/>
<ellipse cx="99.3" cy="346.3" rx="1.5" ry="1.4" transform="rotate(143 99.3 346.3)" fill="#7aa4e4" opacity="0.8"/>
<ellipse cx="73.3" cy="350.0" rx="1.5" ry="1.7" transform="rotate(177 73.3 350.0)" fill="#7aa4e4" opacity="0.8"/>
<ellipse cx="119.8" cy="323.5" rx="1.4" ry="1.4" transform="rotate(165 119.8 323.5)" fill="#7aa4e4" opacity="0.8"/>
<ellipse cx="86.8" cy="347.6" rx="1.5" ry="1.9" transform="rotate(6 86.8 347.6)" fill="#7aa4e4" opacity="0.8"/>
<circle cx="66.9" cy="312.7" r="3.9" fill="url(#sph)"/>
<circle cx="76.3" cy="312.5" r="3.8" fill="url(#sph)"/>
<circle cx="83.3" cy="310.5" r="3.4" fill="url(#sph)"/>
<circle cx="89.3" cy="312.1" r="3.7" fill="url(#sph)"/>
<circle cx="97.2" cy="310.2" r="4.1" fill="url(#sph)"/>
<circle cx="106.4" cy="311.6" r="3.5" fill="url(#sph)"/>
<circle cx="114.2" cy="311.4" r="3.4" fill="url(#sph)"/>
<circle cx="120.2" cy="310.8" r="2.9" fill="url(#sph)"/>
<circle cx="128.7" cy="311.3" r="3.6" fill="url(#sph)"/>
<circle cx="70.0" cy="317.9" r="3.1" fill="url(#sph)"/>
<circle cx="77.8" cy="317.6" r="3.9" fill="url(#sph)"/>
<circle cx="86.2" cy="318.0" r="3.6" fill="url(#sph)"/>
<circle cx="93.3" cy="316.8" r="3.5" fill="url(#sph)"/>
<circle cx="101.7" cy="318.7" r="3.4" fill="url(#sph)"/>
<circle cx="109.9" cy="319.0" r="3.2" fill="url(#sph)"/>
<circle cx="116.9" cy="318.2" r="3.2" fill="url(#sph)"/>
<circle cx="124.2" cy="318.5" r="4.0" fill="url(#sph)"/>
<circle cx="133.4" cy="317.6" r="3.7" fill="url(#sph)"/>
<circle cx="66.1" cy="323.8" r="3.5" fill="url(#sph)"/>
<circle cx="76.2" cy="324.1" r="3.8" fill="url(#sph)"/>
<circle cx="83.8" cy="324.5" r="3.7" fill="url(#sph)"/>
<circle cx="91.3" cy="324.7" r="3.7" fill="url(#sph)"/>
<circle cx="98.6" cy="325.4" r="3.9" fill="url(#sph)"/>
<circle cx="106.7" cy="326.5" r="3.6" fill="url(#sph)"/>
<circle cx="112.1" cy="324.4" r="3.2" fill="url(#sph)"/>
<circle cx="120.9" cy="325.9" r="3.0" fill="url(#sph)"/>
<circle cx="128.8" cy="325.8" r="3.3" fill="url(#sph)"/>
<circle cx="71.3" cy="330.9" r="3.8" fill="url(#sph)"/>
<circle cx="77.5" cy="333.3" r="3.9" fill="url(#sph)"/>
<circle cx="86.9" cy="331.2" r="4.0" fill="url(#sph)"/>
<circle cx="95.5" cy="330.8" r="3.8" fill="url(#sph)"/>
<circle cx="102.7" cy="332.4" r="3.7" fill="url(#sph)"/>
<circle cx="109.1" cy="333.2" r="4.1" fill="url(#sph)"/>
<circle cx="116.5" cy="332.8" r="3.4" fill="url(#sph)"/>
<circle cx="123.5" cy="331.4" r="3.1" fill="url(#sph)"/>
<circle cx="133.3" cy="333.3" r="3.0" fill="url(#sph)"/>
<circle cx="67.8" cy="338.4" r="3.0" fill="url(#sph)"/>
<circle cx="74.5" cy="337.9" r="3.8" fill="url(#sph)"/>
<circle cx="81.2" cy="337.8" r="3.4" fill="url(#sph)"/>
<circle cx="88.9" cy="339.1" r="3.6" fill="url(#sph)"/>
<circle cx="98.9" cy="337.8" r="3.2" fill="url(#sph)"/>
<circle cx="105.6" cy="338.0" r="3.6" fill="url(#sph)"/>
<circle cx="112.4" cy="339.3" r="3.8" fill="url(#sph)"/>
<circle cx="121.6" cy="340.1" r="3.6" fill="url(#sph)"/>
<circle cx="128.3" cy="339.8" r="3.8" fill="url(#sph)"/>
<circle cx="71.5" cy="345.1" r="3.2" fill="url(#sph)"/>
<circle cx="77.7" cy="346.4" r="3.0" fill="url(#sph)"/>
<circle cx="87.2" cy="345.6" r="4.1" fill="url(#sph)"/>
<circle cx="94.9" cy="346.9" r="3.1" fill="url(#sph)"/>
<circle cx="101.7" cy="345.7" r="3.3" fill="url(#sph)"/>
<circle cx="109.3" cy="345.1" r="3.5" fill="url(#sph)"/>
<circle cx="115.4" cy="345.3" r="3.4" fill="url(#sph)"/>
<circle cx="123.9" cy="345.2" r="3.8" fill="url(#sph)"/>
<circle cx="132.7" cy="345.5" r="3.7" fill="url(#sph)"/>
<circle cx="67.1" cy="351.4" r="2.9" fill="url(#sph)"/>
<circle cx="74.4" cy="352.6" r="4.0" fill="url(#sph)"/>
<circle cx="83.7" cy="352.3" r="4.1" fill="url(#sph)"/>
<circle cx="90.2" cy="353.3" r="3.4" fill="url(#sph)"/>
<circle cx="98.6" cy="353.8" r="3.3" fill="url(#sph)"/>
<circle cx="104.5" cy="352.7" r="3.5" fill="url(#sph)"/>
<circle cx="112.7" cy="350.8" r="3.4" fill="url(#sph)"/>
<circle cx="120.5" cy="352.0" r="3.9" fill="url(#sph)"/>
<circle cx="128.6" cy="353.0" r="4.0" fill="url(#sph)"/>
<ellipse cx="115.2" cy="330.7" rx="2.3" ry="1.3" transform="rotate(117 115.2 330.7)" fill="#7aa4e4" opacity="0.85"/>
<ellipse cx="107.8" cy="327.1" rx="2.1" ry="1.3" transform="rotate(169 107.8 327.1)" fill="#7aa4e4" opacity="0.85"/>
<ellipse cx="117.3" cy="345.6" rx="2.4" ry="1.5" transform="rotate(109 117.3 345.6)" fill="#7aa4e4" opacity="0.85"/>
<ellipse cx="90.3" cy="321.1" rx="2.3" ry="1.6" transform="rotate(98 90.3 321.1)" fill="#7aa4e4" opacity="0.85"/>
<ellipse cx="78.0" cy="345.1" rx="1.9" ry="1.2" transform="rotate(8 78.0 345.1)" fill="#7aa4e4" opacity="0.85"/>
<ellipse cx="100.3" cy="341.4" rx="1.8" ry="1.1" transform="rotate(118 100.3 341.4)" fill="#7aa4e4" opacity="0.85"/>
<ellipse cx="69.7" cy="331.4" rx="2.7" ry="1.4" transform="rotate(72 69.7 331.4)" fill="#7aa4e4" opacity="0.85"/>
<ellipse cx="111.5" cy="335.5" rx="1.4" ry="0.9" transform="rotate(159 111.5 335.5)" fill="#7aa4e4" opacity="0.85"/>
<ellipse cx="85.3" cy="313.2" rx="2.5" ry="1.2" transform="rotate(66 85.3 313.2)" fill="#7aa4e4" opacity="0.85"/>
<ellipse cx="100.4" cy="341.0" rx="1.3" ry="1.4" transform="rotate(128 100.4 341.0)" fill="#7aa4e4" opacity="0.85"/>
<ellipse cx="119.4" cy="321.4" rx="2.1" ry="0.9" transform="rotate(101 119.4 321.4)" fill="#7aa4e4" opacity="0.85"/>
<ellipse cx="79.3" cy="343.2" rx="2.6" ry="1.0" transform="rotate(40 79.3 343.2)" fill="#7aa4e4" opacity="0.85"/>
<ellipse cx="128.6" cy="339.8" rx="2.5" ry="0.7" transform="rotate(162 128.6 339.8)" fill="#7aa4e4" opacity="0.85"/>
<ellipse cx="107.3" cy="323.3" rx="1.8" ry="1.5" transform="rotate(141 107.3 323.3)" fill="#7aa4e4" opacity="0.85"/>
<ellipse cx="80.3" cy="336.3" rx="1.3" ry="1.7" transform="rotate(80 80.3 336.3)" fill="#7aa4e4" opacity="0.85"/>
<ellipse cx="125.5" cy="340.7" rx="2.1" ry="1.0" transform="rotate(95 125.5 340.7)" fill="#7aa4e4" opacity="0.85"/>
<ellipse cx="77.1" cy="315.8" rx="2.3" ry="1.1" transform="rotate(135 77.1 315.8)" fill="#7aa4e4" opacity="0.85"/>
<ellipse cx="83.5" cy="340.2" rx="2.3" ry="1.0" transform="rotate(19 83.5 340.2)" fill="#7aa4e4" opacity="0.85"/>
<ellipse cx="93.3" cy="330.7" rx="1.2" ry="0.9" transform="rotate(10 93.3 330.7)" fill="#7aa4e4" opacity="0.85"/>
<ellipse cx="105.8" cy="347.4" rx="1.4" ry="0.7" transform="rotate(127 105.8 347.4)" fill="#7aa4e4" opacity="0.85"/>
<ellipse cx="119.4" cy="350.6" rx="2.1" ry="1.0" transform="rotate(151 119.4 350.6)" fill="#7aa4e4" opacity="0.85"/>
<ellipse cx="75.9" cy="339.2" rx="1.2" ry="1.1" transform="rotate(89 75.9 339.2)" fill="#7aa4e4" opacity="0.85"/>
<ellipse cx="92.1" cy="317.1" rx="1.4" ry="1.5" transform="rotate(83 92.1 317.1)" fill="#7aa4e4" opacity="0.85"/>
<ellipse cx="104.7" cy="318.9" rx="2.3" ry="1.0" transform="rotate(107 104.7 318.9)" fill="#7aa4e4" opacity="0.85"/>
<ellipse cx="125.3" cy="351.9" rx="1.1" ry="1.5" transform="rotate(154 125.3 351.9)" fill="#7aa4e4" opacity="0.85"/>
<ellipse cx="88.4" cy="326.1" rx="2.0" ry="1.6" transform="rotate(72 88.4 326.1)" fill="#7aa4e4" opacity="0.85"/>
<ellipse cx="123.4" cy="341.9" rx="1.3" ry="1.6" transform="rotate(3 123.4 341.9)" fill="#7aa4e4" opacity="0.85"/>
<ellipse cx="77.6" cy="338.0" rx="1.1" ry="1.1" transform="rotate(23 77.6 338.0)" fill="#7aa4e4" opacity="0.85"/>
<ellipse cx="97.4" cy="345.4" rx="2.6" ry="0.7" transform="rotate(11 97.4 345.4)" fill="#7aa4e4" opacity="0.85"/>
<ellipse cx="121.0" cy="311.8" rx="1.5" ry="0.8" transform="rotate(16 121.0 311.8)" fill="#7aa4e4" opacity="0.85"/>
<ellipse cx="70.2" cy="336.8" rx="2.3" ry="1.4" transform="rotate(152 70.2 336.8)" fill="#7aa4e4" opacity="0.85"/>
<ellipse cx="109.9" cy="326.4" rx="2.1" ry="1.7" transform="rotate(115 109.9 326.4)" fill="#7aa4e4" opacity="0.85"/>
<ellipse cx="83.7" cy="312.5" rx="2.7" ry="1.3" transform="rotate(63 83.7 312.5)" fill="#7aa4e4" opacity="0.85"/>
<ellipse cx="106.3" cy="333.6" rx="1.9" ry="0.8" transform="rotate(64 106.3 333.6)" fill="#7aa4e4" opacity="0.85"/>
<ellipse cx="94.2" cy="318.4" rx="2.6" ry="1.1" transform="rotate(119 94.2 318.4)" fill="#7aa4e4" opacity="0.85"/>
<ellipse cx="113.0" cy="341.3" rx="2.3" ry="1.5" transform="rotate(45 113.0 341.3)" fill="#7aa4e4" opacity="0.85"/>
<ellipse cx="129.4" cy="316.4" rx="2.7" ry="1.6" transform="rotate(153 129.4 316.4)" fill="#7aa4e4" opacity="0.85"/>
<ellipse cx="71.8" cy="313.8" rx="2.5" ry="1.2" transform="rotate(67 71.8 313.8)" fill="#7aa4e4" opacity="0.85"/>
<ellipse cx="129.9" cy="311.7" rx="2.0" ry="1.1" transform="rotate(23 129.9 311.7)" fill="#7aa4e4" opacity="0.85"/>
<ellipse cx="93.2" cy="339.8" rx="2.6" ry="0.7" transform="rotate(94 93.2 339.8)" fill="#7aa4e4" opacity="0.85"/>
<ellipse cx="74.1" cy="343.7" rx="1.2" ry="0.7" transform="rotate(69 74.1 343.7)" fill="#7aa4e4" opacity="0.85"/>
<ellipse cx="114.2" cy="323.2" rx="1.2" ry="1.5" transform="rotate(145 114.2 323.2)" fill="#7aa4e4" opacity="0.85"/>
<ellipse cx="121.9" cy="322.8" rx="1.8" ry="0.9" transform="rotate(100 121.9 322.8)" fill="#7aa4e4" opacity="0.85"/>
<ellipse cx="89.1" cy="324.3" rx="2.4" ry="1.7" transform="rotate(105 89.1 324.3)" fill="#7aa4e4" opacity="0.85"/>
<ellipse cx="75.0" cy="337.5" rx="1.8" ry="1.7" transform="rotate(129 75.0 337.5)" fill="#7aa4e4" opacity="0.85"/>
<ellipse cx="120.6" cy="339.5" rx="2.0" ry="1.6" transform="rotate(150 120.6 339.5)" fill="#7aa4e4" opacity="0.85"/>
<ellipse cx="86.7" cy="316.6" rx="1.7" ry="1.2" transform="rotate(18 86.7 316.6)" fill="#7aa4e4" opacity="0.85"/>
<ellipse cx="90.1" cy="334.2" rx="1.1" ry="1.5" transform="rotate(117 90.1 334.2)" fill="#7aa4e4" opacity="0.85"/>
</g>
<path d="M68.5,307.0 L68.5,346.5 A31.200000000000003,5.6 0 0 0 130.9,346.5 L130.9,307.0" fill="none" stroke="#a0a0a4" stroke-width="0.8"/>
<ellipse cx="99.7" cy="307.0" rx="31.200000000000003" ry="5.6" fill="#bdbdbf" stroke="#6e6e70" stroke-width="1.1"/>
<clipPath id="cyl2"><path d="M178.8,307.0 L178.8,346.5 A31.049999999999997,5.6 0 0 0 240.9,346.5 L240.9,307.0 Z"/></clipPath>
<g clip-path="url(#cyl2)">
<rect x="178.8" y="307.0" width="62.099999999999994" height="45.1" fill="#c8ccd4"/>
<ellipse cx="238.2" cy="349.9" rx="1.3" ry="0.9" transform="rotate(150 238.2 349.9)" fill="#f2a254" opacity="0.8"/>
<ellipse cx="224.5" cy="338.2" rx="1.8" ry="1.5" transform="rotate(109 224.5 338.2)" fill="#f2a254" opacity="0.8"/>
<ellipse cx="214.9" cy="316.7" rx="2.1" ry="1.3" transform="rotate(130 214.9 316.7)" fill="#f2a254" opacity="0.8"/>
<ellipse cx="240.6" cy="350.0" rx="2.3" ry="1.3" transform="rotate(48 240.6 350.0)" fill="#f2a254" opacity="0.8"/>
<ellipse cx="181.0" cy="311.2" rx="2.1" ry="1.2" transform="rotate(68 181.0 311.2)" fill="#f2a254" opacity="0.8"/>
<ellipse cx="234.2" cy="332.1" rx="2.3" ry="1.1" transform="rotate(4 234.2 332.1)" fill="#f2a254" opacity="0.8"/>
<ellipse cx="199.0" cy="315.8" rx="2.2" ry="2.0" transform="rotate(121 199.0 315.8)" fill="#f2a254" opacity="0.8"/>
<ellipse cx="190.1" cy="347.6" rx="2.8" ry="1.7" transform="rotate(163 190.1 347.6)" fill="#f2a254" opacity="0.8"/>
<ellipse cx="226.2" cy="343.2" rx="1.9" ry="2.0" transform="rotate(173 226.2 343.2)" fill="#f2a254" opacity="0.8"/>
<ellipse cx="188.8" cy="341.7" rx="2.6" ry="1.4" transform="rotate(95 188.8 341.7)" fill="#f2a254" opacity="0.8"/>
<ellipse cx="209.2" cy="348.9" rx="2.2" ry="1.8" transform="rotate(64 209.2 348.9)" fill="#f2a254" opacity="0.8"/>
<ellipse cx="233.6" cy="347.9" rx="2.1" ry="1.5" transform="rotate(166 233.6 347.9)" fill="#f2a254" opacity="0.8"/>
<ellipse cx="223.7" cy="330.5" rx="1.6" ry="1.2" transform="rotate(126 223.7 330.5)" fill="#f2a254" opacity="0.8"/>
<ellipse cx="189.1" cy="348.2" rx="1.7" ry="1.9" transform="rotate(56 189.1 348.2)" fill="#f2a254" opacity="0.8"/>
<ellipse cx="238.3" cy="339.7" rx="2.2" ry="1.4" transform="rotate(117 238.3 339.7)" fill="#f2a254" opacity="0.8"/>
<ellipse cx="215.3" cy="323.1" rx="1.6" ry="1.4" transform="rotate(168 215.3 323.1)" fill="#f2a254" opacity="0.8"/>
<ellipse cx="217.5" cy="313.2" rx="2.8" ry="1.7" transform="rotate(163 217.5 313.2)" fill="#f2a254" opacity="0.8"/>
<ellipse cx="190.7" cy="341.4" rx="1.3" ry="1.6" transform="rotate(49 190.7 341.4)" fill="#f2a254" opacity="0.8"/>
<ellipse cx="192.9" cy="346.9" rx="1.4" ry="1.4" transform="rotate(154 192.9 346.9)" fill="#f2a254" opacity="0.8"/>
<ellipse cx="194.0" cy="318.9" rx="3.0" ry="1.3" transform="rotate(129 194.0 318.9)" fill="#f2a254" opacity="0.8"/>
<ellipse cx="180.8" cy="325.3" rx="1.5" ry="1.6" transform="rotate(15 180.8 325.3)" fill="#f2a254" opacity="0.8"/>
<ellipse cx="238.1" cy="311.1" rx="2.7" ry="0.8" transform="rotate(46 238.1 311.1)" fill="#f2a254" opacity="0.8"/>
<ellipse cx="229.3" cy="316.6" rx="1.6" ry="1.6" transform="rotate(69 229.3 316.6)" fill="#f2a254" opacity="0.8"/>
<ellipse cx="181.5" cy="351.7" rx="1.5" ry="0.8" transform="rotate(62 181.5 351.7)" fill="#f2a254" opacity="0.8"/>
<ellipse cx="217.0" cy="341.3" rx="1.4" ry="1.2" transform="rotate(6 217.0 341.3)" fill="#f2a254" opacity="0.8"/>
<ellipse cx="206.7" cy="342.2" rx="2.7" ry="1.9" transform="rotate(136 206.7 342.2)" fill="#f2a254" opacity="0.8"/>
<ellipse cx="232.4" cy="339.7" rx="2.1" ry="1.1" transform="rotate(119 232.4 339.7)" fill="#f2a254" opacity="0.8"/>
<ellipse cx="198.4" cy="314.3" rx="2.1" ry="1.8" transform="rotate(23 198.4 314.3)" fill="#f2a254" opacity="0.8"/>
<ellipse cx="215.1" cy="326.5" rx="2.2" ry="1.0" transform="rotate(173 215.1 326.5)" fill="#f2a254" opacity="0.8"/>
<ellipse cx="194.9" cy="335.5" rx="2.0" ry="0.8" transform="rotate(100 194.9 335.5)" fill="#f2a254" opacity="0.8"/>
<ellipse cx="187.5" cy="312.4" rx="1.3" ry="1.0" transform="rotate(17 187.5 312.4)" fill="#f2a254" opacity="0.8"/>
<ellipse cx="218.2" cy="331.4" rx="3.2" ry="1.9" transform="rotate(179 218.2 331.4)" fill="#f2a254" opacity="0.8"/>
<ellipse cx="193.2" cy="328.7" rx="1.7" ry="1.5" transform="rotate(112 193.2 328.7)" fill="#f2a254" opacity="0.8"/>
<ellipse cx="228.5" cy="339.9" rx="1.7" ry="1.3" transform="rotate(95 228.5 339.9)" fill="#f2a254" opacity="0.8"/>
<ellipse cx="179.1" cy="311.5" rx="2.0" ry="0.9" transform="rotate(130 179.1 311.5)" fill="#f2a254" opacity="0.8"/>
<ellipse cx="193.8" cy="314.2" rx="1.6" ry="1.1" transform="rotate(39 193.8 314.2)" fill="#f2a254" opacity="0.8"/>
<ellipse cx="211.1" cy="329.6" rx="1.8" ry="1.6" transform="rotate(38 211.1 329.6)" fill="#f2a254" opacity="0.8"/>
<ellipse cx="235.1" cy="350.5" rx="2.7" ry="1.3" transform="rotate(92 235.1 350.5)" fill="#f2a254" opacity="0.8"/>
<ellipse cx="214.9" cy="312.2" rx="2.0" ry="1.4" transform="rotate(33 214.9 312.2)" fill="#f2a254" opacity="0.8"/>
<ellipse cx="184.6" cy="343.8" rx="1.9" ry="1.4" transform="rotate(166 184.6 343.8)" fill="#f2a254" opacity="0.8"/>
<ellipse cx="216.7" cy="322.2" rx="3.2" ry="1.2" transform="rotate(3 216.7 322.2)" fill="#f2a254" opacity="0.8"/>
<ellipse cx="221.4" cy="314.3" rx="1.8" ry="1.8" transform="rotate(121 221.4 314.3)" fill="#f2a254" opacity="0.8"/>
<ellipse cx="179.8" cy="329.0" rx="2.0" ry="1.4" transform="rotate(37 179.8 329.0)" fill="#f2a254" opacity="0.8"/>
<ellipse cx="215.4" cy="313.1" rx="1.8" ry="1.2" transform="rotate(168 215.4 313.1)" fill="#f2a254" opacity="0.8"/>
<ellipse cx="183.6" cy="341.8" rx="1.6" ry="1.5" transform="rotate(71 183.6 341.8)" fill="#f2a254" opacity="0.8"/>
<ellipse cx="207.6" cy="341.7" rx="2.0" ry="0.9" transform="rotate(22 207.6 341.7)" fill="#f2a254" opacity="0.8"/>
<ellipse cx="183.8" cy="345.8" rx="2.5" ry="2.0" transform="rotate(125 183.8 345.8)" fill="#f2a254" opacity="0.8"/>
<ellipse cx="180.3" cy="337.8" rx="2.8" ry="1.7" transform="rotate(90 180.3 337.8)" fill="#f2a254" opacity="0.8"/>
<ellipse cx="201.0" cy="329.2" rx="2.8" ry="1.1" transform="rotate(95 201.0 329.2)" fill="#f2a254" opacity="0.8"/>
<ellipse cx="208.5" cy="350.2" rx="2.8" ry="1.9" transform="rotate(150 208.5 350.2)" fill="#f2a254" opacity="0.8"/>
<ellipse cx="197.2" cy="319.8" rx="2.2" ry="1.1" transform="rotate(77 197.2 319.8)" fill="#f2a254" opacity="0.8"/>
<ellipse cx="221.0" cy="348.7" rx="2.4" ry="1.8" transform="rotate(17 221.0 348.7)" fill="#f2a254" opacity="0.8"/>
<ellipse cx="200.9" cy="352.0" rx="1.5" ry="1.3" transform="rotate(12 200.9 352.0)" fill="#f2a254" opacity="0.8"/>
<ellipse cx="184.1" cy="347.7" rx="3.2" ry="1.6" transform="rotate(23 184.1 347.7)" fill="#f2a254" opacity="0.8"/>
<ellipse cx="197.2" cy="319.8" rx="2.5" ry="1.6" transform="rotate(79 197.2 319.8)" fill="#f2a254" opacity="0.8"/>
<ellipse cx="211.3" cy="314.7" rx="2.3" ry="1.9" transform="rotate(136 211.3 314.7)" fill="#f2a254" opacity="0.8"/>
<ellipse cx="184.8" cy="331.7" rx="2.6" ry="1.1" transform="rotate(161 184.8 331.7)" fill="#f2a254" opacity="0.8"/>
<ellipse cx="207.4" cy="339.6" rx="2.0" ry="2.0" transform="rotate(141 207.4 339.6)" fill="#f2a254" opacity="0.8"/>
<ellipse cx="214.4" cy="316.1" rx="2.1" ry="0.8" transform="rotate(107 214.4 316.1)" fill="#f2a254" opacity="0.8"/>
<ellipse cx="233.6" cy="317.6" rx="2.2" ry="1.4" transform="rotate(73 233.6 317.6)" fill="#f2a254" opacity="0.8"/>
<ellipse cx="222.9" cy="349.4" rx="2.6" ry="1.4" transform="rotate(173 222.9 349.4)" fill="#f2a254" opacity="0.8"/>
<ellipse cx="199.3" cy="341.4" rx="2.5" ry="1.7" transform="rotate(153 199.3 341.4)" fill="#f2a254" opacity="0.8"/>
<ellipse cx="192.8" cy="336.2" rx="2.0" ry="1.6" transform="rotate(176 192.8 336.2)" fill="#f2a254" opacity="0.8"/>
<ellipse cx="218.2" cy="310.5" rx="2.1" ry="1.7" transform="rotate(159 218.2 310.5)" fill="#f2a254" opacity="0.8"/>
<ellipse cx="219.2" cy="344.4" rx="1.2" ry="1.9" transform="rotate(131 219.2 344.4)" fill="#f2a254" opacity="0.8"/>
<ellipse cx="216.5" cy="348.1" rx="3.0" ry="0.9" transform="rotate(147 216.5 348.1)" fill="#f2a254" opacity="0.8"/>
<ellipse cx="226.4" cy="318.4" rx="2.7" ry="1.5" transform="rotate(34 226.4 318.4)" fill="#f2a254" opacity="0.8"/>
<ellipse cx="228.7" cy="315.8" rx="2.4" ry="1.3" transform="rotate(46 228.7 315.8)" fill="#f2a254" opacity="0.8"/>
<ellipse cx="214.0" cy="329.7" rx="1.6" ry="2.0" transform="rotate(13 214.0 329.7)" fill="#f2a254" opacity="0.8"/>
<ellipse cx="179.0" cy="330.4" rx="2.9" ry="1.6" transform="rotate(136 179.0 330.4)" fill="#f2a254" opacity="0.8"/>
<circle cx="177.8" cy="312.0" r="3.3" fill="url(#sph)"/>
<circle cx="184.7" cy="311.5" r="2.9" fill="url(#sph)"/>
<circle cx="191.7" cy="312.3" r="3.1" fill="url(#sph)"/>
<circle cx="201.4" cy="312.4" r="3.4" fill="url(#sph)"/>
<circle cx="208.7" cy="312.4" r="3.9" fill="url(#sph)"/>
<circle cx="214.7" cy="310.5" r="3.4" fill="url(#sph)"/>
<circle cx="223.3" cy="310.9" r="2.9" fill="url(#sph)"/>
<circle cx="231.2" cy="312.9" r="3.3" fill="url(#sph)"/>
<circle cx="238.7" cy="311.1" r="3.4" fill="url(#sph)"/>
<circle cx="182.7" cy="317.7" r="3.7" fill="url(#sph)"/>
<circle cx="189.2" cy="318.4" r="4.0" fill="url(#sph)"/>
<circle cx="195.5" cy="319.3" r="3.3" fill="url(#sph)"/>
<circle cx="204.8" cy="319.2" r="3.7" fill="url(#sph)"/>
<circle cx="211.7" cy="319.3" r="3.0" fill="url(#sph)"/>
<circle cx="220.0" cy="318.0" r="3.5" fill="url(#sph)"/>
<circle cx="228.3" cy="319.2" r="3.7" fill="url(#sph)"/>
<circle cx="234.2" cy="317.5" r="3.4" fill="url(#sph)"/>
<circle cx="241.6" cy="317.6" r="4.0" fill="url(#sph)"/>
<circle cx="176.6" cy="326.1" r="3.4" fill="url(#sph)"/>
<circle cx="185.0" cy="324.6" r="3.0" fill="url(#sph)"/>
<circle cx="192.9" cy="324.1" r="3.4" fill="url(#sph)"/>
<circle cx="200.0" cy="326.3" r="4.0" fill="url(#sph)"/>
<circle cx="208.0" cy="325.5" r="4.0" fill="url(#sph)"/>
<circle cx="215.3" cy="323.9" r="3.2" fill="url(#sph)"/>
<circle cx="222.5" cy="325.6" r="3.3" fill="url(#sph)"/>
<circle cx="230.6" cy="326.0" r="3.2" fill="url(#sph)"/>
<circle cx="239.5" cy="325.5" r="3.4" fill="url(#sph)"/>
<circle cx="182.6" cy="331.4" r="4.0" fill="url(#sph)"/>
<circle cx="190.5" cy="331.9" r="3.7" fill="url(#sph)"/>
<circle cx="198.1" cy="332.6" r="3.8" fill="url(#sph)"/>
<circle cx="205.5" cy="333.2" r="3.8" fill="url(#sph)"/>
<circle cx="213.4" cy="331.3" r="3.6" fill="url(#sph)"/>
<circle cx="220.1" cy="331.5" r="3.4" fill="url(#sph)"/>
<circle cx="226.2" cy="333.3" r="3.3" fill="url(#sph)"/>
<circle cx="234.7" cy="333.1" r="3.1" fill="url(#sph)"/>
<circle cx="243.8" cy="330.8" r="2.9" fill="url(#sph)"/>
<circle cx="177.4" cy="338.3" r="4.0" fill="url(#sph)"/>
<circle cx="186.5" cy="339.5" r="3.4" fill="url(#sph)"/>
<circle cx="193.1" cy="337.9" r="3.9" fill="url(#sph)"/>
<circle cx="200.3" cy="338.1" r="3.7" fill="url(#sph)"/>
<circle cx="207.2" cy="338.1" r="4.0" fill="url(#sph)"/>
<circle cx="214.6" cy="337.6" r="3.1" fill="url(#sph)"/>
<circle cx="222.7" cy="338.5" r="3.2" fill="url(#sph)"/>
<circle cx="230.5" cy="337.9" r="3.2" fill="url(#sph)"/>
<circle cx="238.9" cy="338.2" r="3.3" fill="url(#sph)"/>
<circle cx="182.4" cy="344.2" r="3.1" fill="url(#sph)"/>
<circle cx="190.3" cy="345.3" r="3.8" fill="url(#sph)"/>
<circle cx="195.7" cy="345.6" r="3.9" fill="url(#sph)"/>
<circle cx="203.9" cy="346.3" r="3.6" fill="url(#sph)"/>
<circle cx="211.7" cy="347.0" r="3.4" fill="url(#sph)"/>
<circle cx="219.5" cy="345.9" r="3.3" fill="url(#sph)"/>
<circle cx="228.2" cy="345.8" r="3.6" fill="url(#sph)"/>
<circle cx="234.9" cy="347.0" r="4.1" fill="url(#sph)"/>
<circle cx="243.4" cy="345.4" r="3.4" fill="url(#sph)"/>
<circle cx="177.9" cy="350.9" r="3.0" fill="url(#sph)"/>
<circle cx="186.9" cy="351.2" r="4.0" fill="url(#sph)"/>
<circle cx="193.5" cy="353.5" r="3.0" fill="url(#sph)"/>
<circle cx="200.0" cy="353.2" r="2.9" fill="url(#sph)"/>
<circle cx="207.0" cy="351.9" r="3.1" fill="url(#sph)"/>
<circle cx="214.7" cy="352.8" r="3.0" fill="url(#sph)"/>
<circle cx="224.8" cy="352.7" r="3.0" fill="url(#sph)"/>
<circle cx="232.2" cy="351.5" r="3.5" fill="url(#sph)"/>
<circle cx="238.8" cy="351.2" r="3.5" fill="url(#sph)"/>
<ellipse cx="182.5" cy="318.4" rx="2.7" ry="1.5" transform="rotate(94 182.5 318.4)" fill="#f2a254" opacity="0.85"/>
<ellipse cx="221.1" cy="346.9" rx="1.3" ry="1.2" transform="rotate(24 221.1 346.9)" fill="#f2a254" opacity="0.85"/>
<ellipse cx="186.0" cy="314.6" rx="1.4" ry="0.8" transform="rotate(39 186.0 314.6)" fill="#f2a254" opacity="0.85"/>
<ellipse cx="202.3" cy="336.2" rx="2.5" ry="1.6" transform="rotate(129 202.3 336.2)" fill="#f2a254" opacity="0.85"/>
<ellipse cx="210.3" cy="348.6" rx="1.3" ry="0.8" transform="rotate(147 210.3 348.6)" fill="#f2a254" opacity="0.85"/>
<ellipse cx="217.7" cy="318.9" rx="1.7" ry="1.0" transform="rotate(78 217.7 318.9)" fill="#f2a254" opacity="0.85"/>
<ellipse cx="205.4" cy="326.8" rx="2.4" ry="1.5" transform="rotate(101 205.4 326.8)" fill="#f2a254" opacity="0.85"/>
<ellipse cx="208.2" cy="322.0" rx="2.4" ry="1.7" transform="rotate(41 208.2 322.0)" fill="#f2a254" opacity="0.85"/>
<ellipse cx="222.5" cy="339.4" rx="2.2" ry="0.7" transform="rotate(99 222.5 339.4)" fill="#f2a254" opacity="0.85"/>
<ellipse cx="191.3" cy="318.2" rx="2.0" ry="1.3" transform="rotate(113 191.3 318.2)" fill="#f2a254" opacity="0.85"/>
<ellipse cx="224.9" cy="339.6" rx="1.9" ry="0.7" transform="rotate(139 224.9 339.6)" fill="#f2a254" opacity="0.85"/>
<ellipse cx="229.9" cy="345.2" rx="2.1" ry="0.7" transform="rotate(35 229.9 345.2)" fill="#f2a254" opacity="0.85"/>
<ellipse cx="185.5" cy="336.8" rx="2.0" ry="0.9" transform="rotate(172 185.5 336.8)" fill="#f2a254" opacity="0.85"/>
<ellipse cx="239.5" cy="347.9" rx="1.8" ry="1.0" transform="rotate(38 239.5 347.9)" fill="#f2a254" opacity="0.85"/>
<ellipse cx="230.0" cy="339.5" rx="1.5" ry="1.6" transform="rotate(102 230.0 339.5)" fill="#f2a254" opacity="0.85"/>
<ellipse cx="204.4" cy="327.5" rx="2.3" ry="1.2" transform="rotate(119 204.4 327.5)" fill="#f2a254" opacity="0.85"/>
<ellipse cx="186.4" cy="339.6" rx="1.5" ry="1.6" transform="rotate(39 186.4 339.6)" fill="#f2a254" opacity="0.85"/>
<ellipse cx="199.5" cy="332.7" rx="1.7" ry="1.2" transform="rotate(166 199.5 332.7)" fill="#f2a254" opacity="0.85"/>
<ellipse cx="191.3" cy="342.5" rx="2.2" ry="1.5" transform="rotate(81 191.3 342.5)" fill="#f2a254" opacity="0.85"/>
<ellipse cx="207.0" cy="324.6" rx="1.9" ry="1.0" transform="rotate(34 207.0 324.6)" fill="#f2a254" opacity="0.85"/>
<ellipse cx="208.4" cy="318.1" rx="1.8" ry="1.3" transform="rotate(56 208.4 318.1)" fill="#f2a254" opacity="0.85"/>
<ellipse cx="189.4" cy="335.5" rx="2.5" ry="0.9" transform="rotate(111 189.4 335.5)" fill="#f2a254" opacity="0.85"/>
<ellipse cx="219.7" cy="347.3" rx="2.2" ry="1.0" transform="rotate(37 219.7 347.3)" fill="#f2a254" opacity="0.85"/>
<ellipse cx="230.8" cy="322.6" rx="1.0" ry="1.6" transform="rotate(36 230.8 322.6)" fill="#f2a254" opacity="0.85"/>
<ellipse cx="198.2" cy="323.4" rx="1.5" ry="1.4" transform="rotate(62 198.2 323.4)" fill="#f2a254" opacity="0.85"/>
<ellipse cx="206.2" cy="327.7" rx="2.5" ry="0.7" transform="rotate(104 206.2 327.7)" fill="#f2a254" opacity="0.85"/>
<ellipse cx="187.0" cy="316.3" rx="2.1" ry="1.1" transform="rotate(12 187.0 316.3)" fill="#f2a254" opacity="0.85"/>
<ellipse cx="215.3" cy="348.5" rx="2.2" ry="1.2" transform="rotate(144 215.3 348.5)" fill="#f2a254" opacity="0.85"/>
<ellipse cx="235.7" cy="316.4" rx="1.5" ry="1.7" transform="rotate(167 235.7 316.4)" fill="#f2a254" opacity="0.85"/>
<ellipse cx="191.4" cy="339.6" rx="2.6" ry="1.3" transform="rotate(126 191.4 339.6)" fill="#f2a254" opacity="0.85"/>
<ellipse cx="211.3" cy="319.9" rx="1.4" ry="0.8" transform="rotate(120 211.3 319.9)" fill="#f2a254" opacity="0.85"/>
<ellipse cx="187.4" cy="336.2" rx="1.7" ry="1.1" transform="rotate(175 187.4 336.2)" fill="#f2a254" opacity="0.85"/>
<ellipse cx="203.1" cy="330.0" rx="1.7" ry="0.9" transform="rotate(40 203.1 330.0)" fill="#f2a254" opacity="0.85"/>
<ellipse cx="211.9" cy="344.4" rx="1.2" ry="1.6" transform="rotate(121 211.9 344.4)" fill="#f2a254" opacity="0.85"/>
<ellipse cx="182.1" cy="339.8" rx="1.7" ry="1.2" transform="rotate(18 182.1 339.8)" fill="#f2a254" opacity="0.85"/>
<ellipse cx="210.5" cy="331.9" rx="2.4" ry="1.3" transform="rotate(127 210.5 331.9)" fill="#f2a254" opacity="0.85"/>
<ellipse cx="224.4" cy="319.3" rx="1.0" ry="1.2" transform="rotate(23 224.4 319.3)" fill="#f2a254" opacity="0.85"/>
<ellipse cx="187.6" cy="323.5" rx="2.0" ry="1.3" transform="rotate(116 187.6 323.5)" fill="#f2a254" opacity="0.85"/>
<ellipse cx="237.3" cy="314.3" rx="2.0" ry="0.8" transform="rotate(121 237.3 314.3)" fill="#f2a254" opacity="0.85"/>
<ellipse cx="206.0" cy="315.9" rx="1.6" ry="1.4" transform="rotate(85 206.0 315.9)" fill="#f2a254" opacity="0.85"/>
<ellipse cx="237.4" cy="325.0" rx="1.6" ry="1.6" transform="rotate(109 237.4 325.0)" fill="#f2a254" opacity="0.85"/>
<ellipse cx="185.4" cy="343.0" rx="1.7" ry="1.6" transform="rotate(114 185.4 343.0)" fill="#f2a254" opacity="0.85"/>
<ellipse cx="228.8" cy="347.7" rx="1.9" ry="1.7" transform="rotate(5 228.8 347.7)" fill="#f2a254" opacity="0.85"/>
<ellipse cx="199.9" cy="345.3" rx="1.0" ry="1.4" transform="rotate(180 199.9 345.3)" fill="#f2a254" opacity="0.85"/>
<ellipse cx="223.2" cy="346.3" rx="1.1" ry="1.2" transform="rotate(110 223.2 346.3)" fill="#f2a254" opacity="0.85"/>
<ellipse cx="205.8" cy="327.7" rx="2.4" ry="0.9" transform="rotate(8 205.8 327.7)" fill="#f2a254" opacity="0.85"/>
<ellipse cx="215.6" cy="350.7" rx="2.5" ry="1.4" transform="rotate(53 215.6 350.7)" fill="#f2a254" opacity="0.85"/>
<ellipse cx="235.0" cy="311.7" rx="1.4" ry="1.5" transform="rotate(161 235.0 311.7)" fill="#f2a254" opacity="0.85"/>
</g>
<path d="M178.8,307.0 L178.8,346.5 A31.049999999999997,5.6 0 0 0 240.9,346.5 L240.9,307.0" fill="none" stroke="#a0a0a4" stroke-width="0.8"/>
<ellipse cx="209.85000000000002" cy="307.0" rx="31.049999999999997" ry="5.6" fill="#bdbdbf" stroke="#6e6e70" stroke-width="1.1"/>
<text x="146.4" y="312.3" font-size="8.2" text-anchor="start" fill="#1a1a1a" stroke="#1a1a1a" stroke-width="0.15" font-weight="normal" >LFP</text>
<text x="137.3" y="324.3" font-size="8.2" text-anchor="start" fill="#5a8ed0" stroke="#5a8ed0" stroke-width="0.15" font-weight="normal" >PEO</text>
<text x="136.6" y="331.4" font-size="8.2" text-anchor="start" fill="#1a1a1a" stroke="#1a1a1a" stroke-width="0.15" font-weight="normal" >-LiTFSI</text>
<text x="139.3" y="341.6" font-size="8.2" fill="#f0b070" stroke="#f0b070" stroke-width="0.15">P(EO<tspan dy="2" font-size="6">2</tspan><tspan dy="-2">-S</tspan><tspan dy="2" font-size="6">3</tspan><tspan dy="-2">)</tspan></text>
<text x="139.3" y="351.6" font-size="8.2" text-anchor="start" fill="#1a1a1a" stroke="#1a1a1a" stroke-width="0.15" font-weight="normal" >-LiTFSI</text>
<line x1="143.80" y1="309.60" x2="125.50" y2="321.00" stroke="#222" stroke-width="0.8" />
<line x1="165.20" y1="309.60" x2="182.10" y2="321.20" stroke="#222" stroke-width="0.8" />
<line x1="135.70" y1="326.60" x2="123.50" y2="332.00" stroke="#222" stroke-width="0.8" />
<line x1="173.20" y1="334.60" x2="183.00" y2="330.20" stroke="#222" stroke-width="0.8" />
<text x="298.3" y="290.6" font-size="20.5" text-anchor="start" fill="#000" stroke="#000" stroke-width="0.3" font-weight="bold" >d</text>
<rect x="367.3" y="376" width="111.2" height="113.7" fill="#fdf6ee"/>
<rect x="536.3" y="306" width="104.2" height="113.5" fill="#eef2f8"/>
<rect x="389.6" y="320.3" width="63.5" height="14.7" fill="#fbeee0"/>
<rect x="547.1" y="455.7" width="70" height="12.9" fill="#e6edf5"/>
<rect x="342.40" y="296.80" width="314.20" height="200.40" fill="none" stroke="#4a4a4a" stroke-width="1.25"/>
<line x1="338.40" y1="487.70" x2="342.40" y2="487.70" stroke="#4a4a4a" stroke-width="1.25" />
<text x="337.4" y="492.3" font-size="13" text-anchor="end" fill="#1a1a1a" stroke="#1a1a1a" stroke-width="0.3" font-weight="normal" >1.6</text>
<line x1="339.90" y1="468.64" x2="342.40" y2="468.64" stroke="#4a4a4a" stroke-width="1.25" />
<line x1="338.40" y1="449.58" x2="342.40" y2="449.58" stroke="#4a4a4a" stroke-width="1.25" />
<text x="337.4" y="454.2" font-size="13" text-anchor="end" fill="#1a1a1a" stroke="#1a1a1a" stroke-width="0.3" font-weight="normal" >2.0</text>
<line x1="339.90" y1="430.52" x2="342.40" y2="430.52" stroke="#4a4a4a" stroke-width="1.25" />
<line x1="338.40" y1="411.46" x2="342.40" y2="411.46" stroke="#4a4a4a" stroke-width="1.25" />
<text x="337.4" y="416.1" font-size="13" text-anchor="end" fill="#1a1a1a" stroke="#1a1a1a" stroke-width="0.3" font-weight="normal" >2.4</text>
<line x1="339.90" y1="392.40" x2="342.40" y2="392.40" stroke="#4a4a4a" stroke-width="1.25" />
<line x1="338.40" y1="373.34" x2="342.40" y2="373.34" stroke="#4a4a4a" stroke-width="1.25" />
<text x="337.4" y="377.9" font-size="13" text-anchor="end" fill="#1a1a1a" stroke="#1a1a1a" stroke-width="0.3" font-weight="normal" >2.8</text>
<line x1="339.90" y1="354.28" x2="342.40" y2="354.28" stroke="#4a4a4a" stroke-width="1.25" />
<line x1="338.40" y1="335.22" x2="342.40" y2="335.22" stroke="#4a4a4a" stroke-width="1.25" />
<text x="337.4" y="339.8" font-size="13" text-anchor="end" fill="#1a1a1a" stroke="#1a1a1a" stroke-width="0.3" font-weight="normal" >3.2</text>
<line x1="339.90" y1="316.16" x2="342.40" y2="316.16" stroke="#4a4a4a" stroke-width="1.25" />
<line x1="338.40" y1="297.10" x2="342.40" y2="297.10" stroke="#4a4a4a" stroke-width="1.25" />
<text x="337.4" y="301.7" font-size="13" text-anchor="end" fill="#1a1a1a" stroke="#1a1a1a" stroke-width="0.3" font-weight="normal" >3.6</text>
<line x1="358.80" y1="497.20" x2="358.80" y2="501.20" stroke="#4a4a4a" stroke-width="1.25" />
<text x="358.8" y="513.6" font-size="13" text-anchor="middle" fill="#1a1a1a" stroke="#1a1a1a" stroke-width="0.3" font-weight="normal" >0.01</text>
<line x1="391.88" y1="497.20" x2="391.88" y2="499.70" stroke="#4a4a4a" stroke-width="1.25" />
<line x1="424.96" y1="497.20" x2="424.96" y2="501.20" stroke="#4a4a4a" stroke-width="1.25" />
<text x="425.0" y="513.6" font-size="13" text-anchor="middle" fill="#1a1a1a" stroke="#1a1a1a" stroke-width="0.3" font-weight="normal" >0.014</text>
<line x1="458.04" y1="497.20" x2="458.04" y2="499.70" stroke="#4a4a4a" stroke-width="1.25" />
<line x1="491.12" y1="497.20" x2="491.12" y2="501.20" stroke="#4a4a4a" stroke-width="1.25" />
<text x="491.1" y="513.6" font-size="13" text-anchor="middle" fill="#1a1a1a" stroke="#1a1a1a" stroke-width="0.3" font-weight="normal" >0.018</text>
<line x1="524.20" y1="497.20" x2="524.20" y2="499.70" stroke="#4a4a4a" stroke-width="1.25" />
<line x1="557.28" y1="497.20" x2="557.28" y2="501.20" stroke="#4a4a4a" stroke-width="1.25" />
<text x="557.3" y="513.6" font-size="13" text-anchor="middle" fill="#1a1a1a" stroke="#1a1a1a" stroke-width="0.3" font-weight="normal" >0.022</text>
<line x1="590.36" y1="497.20" x2="590.36" y2="499.70" stroke="#4a4a4a" stroke-width="1.25" />
<line x1="623.44" y1="497.20" x2="623.44" y2="501.20" stroke="#4a4a4a" stroke-width="1.25" />
<text x="623.4" y="513.6" font-size="13" text-anchor="middle" fill="#1a1a1a" stroke="#1a1a1a" stroke-width="0.3" font-weight="normal" >0.026</text>
<line x1="656.52" y1="497.20" x2="656.52" y2="499.70" stroke="#4a4a4a" stroke-width="1.25" />
<text x="502.4" y="533.6" font-size="13.2" text-anchor="middle" fill="#1a1a1a" stroke="#1a1a1a" stroke-width="0.3">Electric field intensity (a.u.)</text>
<text transform="translate(305,396.3) rotate(-90)" font-size="14" text-anchor="middle" fill="#1a1a1a" stroke="#1a1a1a" stroke-width="0.3">Variation in S-S bond length (Å)</text>
<text x="370.6" y="309.7" font-size="11.4" text-anchor="start" fill="#1a1a1a" stroke="#1a1a1a" stroke-width="0.22" font-weight="normal" >Low-potential region</text>
<line x1="371.7" y1="315.3" x2="497.4" y2="315.3" stroke="#e8c048" stroke-width="1.4" stroke-dasharray="6.6,3.9"/>
<path d="M357,315.3 L367,311.3 L364,315.3 L367,319.3 Z" fill="#eab640"/>
<text x="392.4" y="331.8" font-size="11.9" fill="#1a1a1a" stroke="#1a1a1a" stroke-width="0.22">Li<tspan dy="-4.5" font-size="7">+</tspan><tspan dy="4.5"> storage</tspan></text>
<text x="550" y="466.4" font-size="11.9" fill="#1a1a1a" stroke="#1a1a1a" stroke-width="0.22">Li<tspan dy="-4.5" font-size="7">+</tspan><tspan dy="4.5"> transport</tspan></text>
<line x1="507" y1="475.7" x2="636" y2="475.7" stroke="#6aaae0" stroke-width="1.4" stroke-dasharray="5.2,7.4"/>
<path d="M646.3,475.7 L636,471.8 L638.5,475.7 L636,479.6 Z" fill="#5aa2e0"/>
<text x="528.6" y="489.1" font-size="11.5" text-anchor="start" fill="#1a1a1a" stroke="#1a1a1a" stroke-width="0.22" font-weight="normal" >High-potential region</text>
<text x="391.9" y="388.9" font-size="10.5" text-anchor="start" fill="#1a1a1a" stroke="#1a1a1a" stroke-width="0.22" font-weight="normal" >Broken S-S bond</text>
<text x="545" y="318.2" font-size="10.5" fill="#1a1a1a" stroke="#1a1a1a" stroke-width="0.22">Coordination with Li<tspan dy="-4" font-size="6.5">+</tspan></text>
<polyline points="358.8,360.2 392.2,360.5 425.4,358.8 458.3,359.5 491.4,357.2" fill="none" stroke="#e4b45c" stroke-width="1.4"/>
<polyline points="524.2,433.1 557.1,433.9 590.6,436.9 623.2,438.5" fill="none" stroke="#34a2b8" stroke-width="1.3"/>
<path d="M358.8,353.5 L365.5,360.2 L358.8,366.9 L352.1,360.2 Z" fill="#fad4aa" stroke="#f0bc80" stroke-width="0.8"/>
<path d="M392.2,353.8 L398.9,360.5 L392.2,367.2 L385.5,360.5 Z" fill="#fad4aa" stroke="#f0bc80" stroke-width="0.8"/>
<path d="M425.4,352.1 L432.09999999999997,358.8 L425.4,365.5 L418.7,358.8 Z" fill="#fad4aa" stroke="#f0bc80" stroke-width="0.8"/>
<path d="M458.3,352.8 L465.0,359.5 L458.3,366.2 L451.6,359.5 Z" fill="#fad4aa" stroke="#f0bc80" stroke-width="0.8"/>
<path d="M491.4,350.5 L498.09999999999997,357.2 L491.4,363.9 L484.7,357.2 Z" fill="#fad4aa" stroke="#f0bc80" stroke-width="0.8"/>
<path d="M524.2,426.40000000000003 L530.9000000000001,433.1 L524.2,439.8 L517.5,433.1 Z" fill="#a6d8f2" stroke="#4e9ccc" stroke-width="0.8"/>
<path d="M557.1,427.2 L563.8000000000001,433.9 L557.1,440.59999999999997 L550.4,433.9 Z" fill="#a6d8f2" stroke="#4e9ccc" stroke-width="0.8"/>
<path d="M590.6,430.2 L597.3000000000001,436.9 L590.6,443.59999999999997 L583.9,436.9 Z" fill="#a6d8f2" stroke="#4e9ccc" stroke-width="0.8"/>
<path d="M623.2,431.8 L629.9000000000001,438.5 L623.2,445.2 L616.5,438.5 Z" fill="#a6d8f2" stroke="#4e9ccc" stroke-width="0.8"/>
<ellipse cx="499.9" cy="370.3" rx="8.0" ry="2.5" transform="rotate(70.0 499.9 370.3)" fill="#ffffff" stroke="#858585" stroke-width="1.3"/>
<ellipse cx="504.2" cy="382.6" rx="8.0" ry="2.5" transform="rotate(70.0 504.2 382.6)" fill="#ffffff" stroke="#858585" stroke-width="1.3"/>
<ellipse cx="510.9" cy="405.3" rx="8.0" ry="2.5" transform="rotate(70.0 510.9 405.3)" fill="#ffffff" stroke="#858585" stroke-width="1.3"/>
<ellipse cx="515.7" cy="418.8" rx="8.0" ry="2.5" transform="rotate(70.0 515.7 418.8)" fill="#ffffff" stroke="#858585" stroke-width="1.3"/>
<path d="M504,389 l2.5,2.5 l-3,2 M508,391 l3,-1.5 l2,2.5 M506,396 l1.5,3 l3,-1 M501,390 l-2.5,1.5 M511,395 l3,1.5" fill="none" stroke="#c07a88" stroke-width="0.9"/>
<path d="M503.5,386.5 l1.2,3 M507.5,397 l1.2,2.5" fill="none" stroke="#8a3040" stroke-width="1.3"/>
<line x1="383" y1="403.8" x2="387.1" y2="412.3" stroke="#a8a8a8" stroke-width="1.5" />
<line x1="387.1" y1="412.3" x2="391.4" y2="426.1" stroke="#a8a8a8" stroke-width="1.5" />
<line x1="391.4" y1="426.1" x2="415.1" y2="417.9" stroke="#a8a8a8" stroke-width="1.5" stroke-dasharray='1.2,1'/>
<line x1="415.1" y1="417.9" x2="426.5" y2="417.9" stroke="#a8a8a8" stroke-width="1.5" />
<line x1="415.1" y1="417.9" x2="425.8" y2="401" stroke="#a8a8a8" stroke-width="1.5" />
<line x1="426.5" y1="417.9" x2="443.4" y2="416.4" stroke="#a8a8a8" stroke-width="1.5" />
<line x1="443.4" y1="416.4" x2="442.2" y2="403.8" stroke="#a8a8a8" stroke-width="1.5" />
<line x1="377.4" y1="393.7" x2="383" y2="403.8" stroke="#a8a8a8" stroke-width="1.5" />
<circle cx="383.5" cy="388.1" r="2.56" fill="url(#atH)"/>
<circle cx="376.9" cy="408.2" r="2.56" fill="url(#atH)"/>
<circle cx="395.0" cy="408.2" r="2.56" fill="url(#atH)"/>
<circle cx="380.6" cy="414.2" r="2.56" fill="url(#atH)"/>
<circle cx="393.4" cy="414.7" r="2.56" fill="url(#atH)"/>
<circle cx="449.5" cy="400.2" r="2.56" fill="url(#atH)"/>
<circle cx="453.1" cy="419.6" r="2.56" fill="url(#atH)"/>
<circle cx="445.8" cy="420.8" r="2.56" fill="url(#atH)"/>
<circle cx="441.0" cy="431.7" r="2.56" fill="url(#atH)"/>
<circle cx="436.0" cy="412.0" r="2.56" fill="url(#atH)"/>
<circle cx="377.4" cy="393.7" r="3.58" fill="url(#atO)"/>
<circle cx="383.0" cy="403.8" r="3.81" fill="url(#atC)"/>
<circle cx="387.1" cy="412.3" r="3.81" fill="url(#atC)"/>
<circle cx="391.4" cy="426.1" r="3.92" fill="url(#atS)"/>
<circle cx="415.1" cy="417.9" r="3.92" fill="url(#atS)"/>
<circle cx="426.5" cy="417.9" r="3.92" fill="url(#atS)"/>
<circle cx="425.8" cy="401.0" r="3.14" fill="url(#atL)"/>
<circle cx="443.4" cy="416.4" r="3.81" fill="url(#atC)"/>
<circle cx="442.2" cy="403.8" r="3.58" fill="url(#atO)"/>
<circle cx="397.0" cy="454.0" r="2.43" fill="url(#atH)"/>
<circle cx="384.0" cy="458.0" r="2.43" fill="url(#atH)"/>
<circle cx="392.0" cy="477.0" r="2.43" fill="url(#atH)"/>
<circle cx="400.0" cy="474.0" r="2.43" fill="url(#atH)"/>
<circle cx="419.0" cy="458.0" r="2.43" fill="url(#atH)"/>
<circle cx="427.0" cy="471.0" r="2.43" fill="url(#atH)"/>
<circle cx="441.0" cy="476.0" r="2.43" fill="url(#atH)"/>
<circle cx="447.0" cy="456.0" r="2.43" fill="url(#atH)"/>
<circle cx="383.0" cy="464.0" r="2.43" fill="url(#atH)"/>
<ellipse cx="413.2" cy="449.8" rx="7.13" ry="4.70" fill="url(#orG)" transform="rotate(0 413.2 449.8)"/>
<ellipse cx="414.4" cy="461.9" rx="6.90" ry="6.72" fill="url(#orR)" transform="rotate(0 414.4 461.9)"/>
<ellipse cx="403.5" cy="466.7" rx="5.17" ry="8.96" fill="url(#orG)" transform="rotate(-15 403.5 466.7)"/>
<ellipse cx="424.8" cy="466.7" rx="5.17" ry="8.96" fill="url(#orG)" transform="rotate(15 424.8 466.7)"/>
<ellipse cx="392.6" cy="469.1" rx="6.90" ry="7.84" fill="url(#orR)" transform="rotate(0 392.6 469.1)"/>
<ellipse cx="435" cy="470.3" rx="7.47" ry="7.84" fill="url(#orR)" transform="rotate(0 435 470.3)"/>
<circle cx="445.8" cy="460.7" r="3.36" fill="url(#atO)"/>
<circle cx="388.5" cy="464.3" r="3.36" fill="url(#atO)"/>
<circle cx="396.0" cy="470.0" r="2.91" fill="url(#atC)"/>
<circle cx="430.0" cy="464.0" r="2.91" fill="url(#atC)"/>
<circle cx="412.0" cy="457.0" r="1.68" fill="url(#atS)"/>
<circle cx="570.0" cy="337.0" r="2.43" fill="url(#atH)"/>
<circle cx="557.0" cy="346.0" r="2.43" fill="url(#atH)"/>
<circle cx="558.0" cy="350.0" r="2.43" fill="url(#atH)"/>
<circle cx="576.0" cy="357.0" r="2.43" fill="url(#atH)"/>
<circle cx="580.0" cy="356.0" r="2.43" fill="url(#atH)"/>
<circle cx="607.0" cy="336.0" r="2.43" fill="url(#atH)"/>
<circle cx="617.0" cy="333.0" r="2.43" fill="url(#atH)"/>
<circle cx="601.0" cy="356.0" r="2.43" fill="url(#atH)"/>
<circle cx="615.0" cy="357.0" r="2.43" fill="url(#atH)"/>
<ellipse cx="587" cy="331.6" rx="7.82" ry="5.94" fill="url(#orG)" transform="rotate(-10 587 331.6)"/>
<ellipse cx="592" cy="342.5" rx="6.90" ry="6.72" fill="url(#orR)" transform="rotate(0 592 342.5)"/>
<ellipse cx="581.5" cy="348.6" rx="4.60" ry="8.40" fill="url(#orG)" transform="rotate(10 581.5 348.6)"/>
<ellipse cx="602.4" cy="345" rx="5.75" ry="9.52" fill="url(#orG)" transform="rotate(15 602.4 345)"/>
<ellipse cx="613" cy="351" rx="8.05" ry="7.84" fill="url(#orR)" transform="rotate(0 613 351)"/>
<ellipse cx="570" cy="349.8" rx="5.75" ry="5.60" fill="url(#orR)" transform="rotate(0 570 349.8)"/>
<circle cx="564.0" cy="352.2" r="3.36" fill="url(#atO)"/>
<circle cx="622.8" cy="338.4" r="3.36" fill="url(#atO)"/>
<circle cx="566.5" cy="346.0" r="2.91" fill="url(#atC)"/>
<circle cx="573.0" cy="354.5" r="2.91" fill="url(#atC)"/>
<circle cx="612.0" cy="342.0" r="2.91" fill="url(#atC)"/>
<line x1="595.6" y1="374" x2="578.6" y2="383.8" stroke="#a8a8a8" stroke-width="1.5" />
<line x1="595.6" y1="374" x2="612" y2="385" stroke="#a8a8a8" stroke-width="1.5" />
<line x1="578.6" y1="383.8" x2="576.1" y2="399.1" stroke="#a8a8a8" stroke-width="1.5" />
<line x1="612" y1="385" x2="616.2" y2="391" stroke="#a8a8a8" stroke-width="1.5" />
<line x1="566.4" y1="398.3" x2="576.1" y2="399.1" stroke="#a8a8a8" stroke-width="1.5" />
<line x1="576.1" y1="399.1" x2="572.5" y2="406.8" stroke="#a8a8a8" stroke-width="1.5" />
<line x1="595" y1="393" x2="606.5" y2="399.1" stroke="#a8a8a8" stroke-width="1.5" />
<line x1="606.5" y1="399.1" x2="616.2" y2="391" stroke="#a8a8a8" stroke-width="1.5" />
<circle cx="556.7" cy="402.0" r="2.56" fill="url(#atH)"/>
<circle cx="566.4" cy="390.0" r="2.56" fill="url(#atH)"/>
<circle cx="586.0" cy="403.0" r="2.56" fill="url(#atH)"/>
<circle cx="589.5" cy="399.0" r="2.56" fill="url(#atH)"/>
<circle cx="606.5" cy="409.0" r="2.56" fill="url(#atH)"/>
<circle cx="611.5" cy="403.5" r="2.56" fill="url(#atH)"/>
<circle cx="626.0" cy="394.0" r="2.56" fill="url(#atH)"/>
<circle cx="617.4" cy="381.5" r="2.56" fill="url(#atH)"/>
<circle cx="566.4" cy="413.0" r="2.56" fill="url(#atH)"/>
<circle cx="590.7" cy="370.4" r="3.14" fill="url(#atL)"/>
<circle cx="595.6" cy="374.0" r="3.92" fill="url(#atS)"/>
<circle cx="578.6" cy="383.8" r="3.92" fill="url(#atS)"/>
<circle cx="612.0" cy="385.0" r="3.92" fill="url(#atS)"/>
<circle cx="595.0" cy="393.0" r="3.58" fill="url(#atO)"/>
<circle cx="566.4" cy="398.3" r="3.81" fill="url(#atC)"/>
<circle cx="576.1" cy="399.1" r="3.81" fill="url(#atC)"/>
<circle cx="606.5" cy="399.1" r="3.81" fill="url(#atC)"/>
<circle cx="616.2" cy="391.0" r="3.81" fill="url(#atC)"/>
<circle cx="572.5" cy="406.8" r="3.58" fill="url(#atO)"/>
</svg></body></html>
